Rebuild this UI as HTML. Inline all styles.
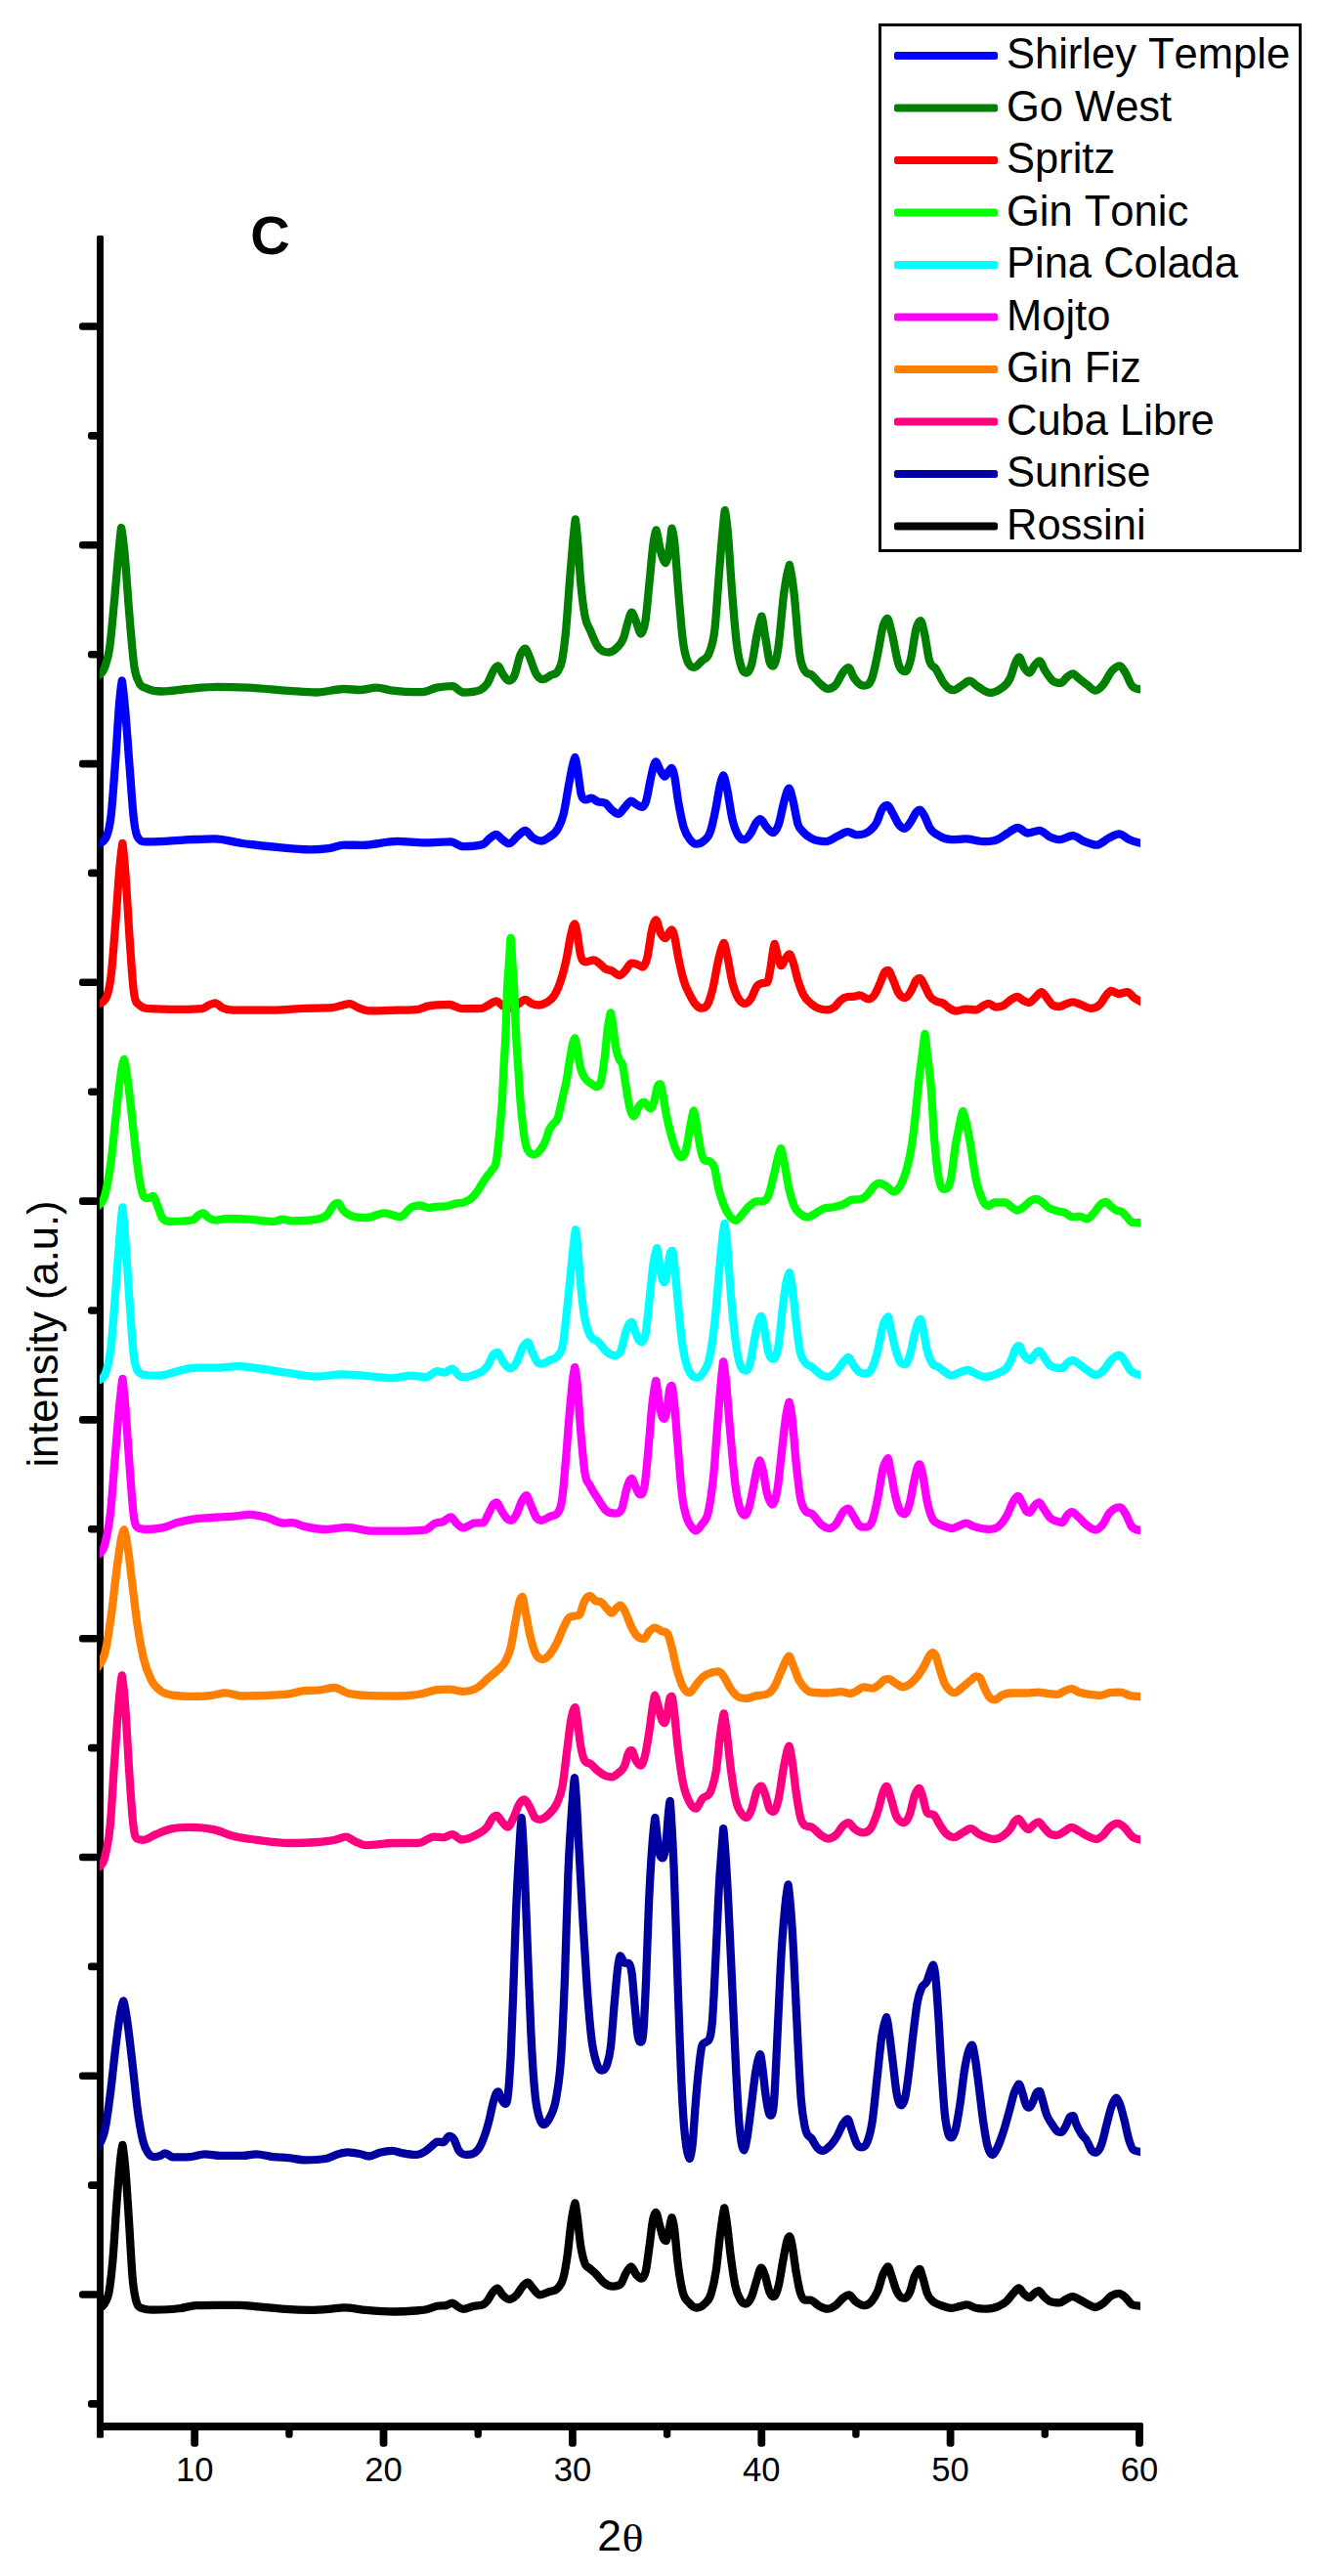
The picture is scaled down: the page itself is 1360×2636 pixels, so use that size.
<!DOCTYPE html>
<html lang="en"><head><meta charset="utf-8"><title>XRD patterns C</title>
<style>html,body{margin:0;padding:0;background:#fff}body{width:1360px;height:2636px;overflow:hidden}svg{display:block}text{font-family:"Liberation Sans",sans-serif;fill:#000;font-kerning:none}</style></head><body>
<svg width="1360" height="2636" viewBox="0 0 1360 2636">
<rect width="1360" height="2636" fill="#fff"/>
<g fill="#000">
<rect x="99" y="241" width="7" height="2253.8" rx="1.5"/>
<rect x="99" y="2479.1" width="1071" height="7.8" rx="2"/>
<rect x="81" y="330.2" width="20" height="7.6" rx="3"/>
<rect x="90" y="442.1" width="11" height="7.6" rx="3"/>
<rect x="81" y="554.0" width="20" height="7.6" rx="3"/>
<rect x="90" y="665.9" width="11" height="7.6" rx="3"/>
<rect x="81" y="777.8" width="20" height="7.6" rx="3"/>
<rect x="90" y="889.6" width="11" height="7.6" rx="3"/>
<rect x="81" y="1001.5" width="20" height="7.6" rx="3"/>
<rect x="90" y="1113.4" width="11" height="7.6" rx="3"/>
<rect x="81" y="1225.3" width="20" height="7.6" rx="3"/>
<rect x="90" y="1337.2" width="11" height="7.6" rx="3"/>
<rect x="81" y="1449.1" width="20" height="7.6" rx="3"/>
<rect x="90" y="1561.0" width="11" height="7.6" rx="3"/>
<rect x="81" y="1672.9" width="20" height="7.6" rx="3"/>
<rect x="90" y="1784.8" width="11" height="7.6" rx="3"/>
<rect x="81" y="1896.7" width="20" height="7.6" rx="3"/>
<rect x="90" y="2008.6" width="11" height="7.6" rx="3"/>
<rect x="81" y="2120.4" width="20" height="7.6" rx="3"/>
<rect x="90" y="2232.3" width="11" height="7.6" rx="3"/>
<rect x="81" y="2344.2" width="20" height="7.6" rx="3"/>
<rect x="90" y="2456.1" width="11" height="7.6" rx="3"/>
<rect x="195.3" y="2483" width="7.8" height="20.7" rx="3"/>
<rect x="292.2" y="2483" width="7.4" height="11.8" rx="3"/>
<rect x="388.6" y="2483" width="7.8" height="20.7" rx="3"/>
<rect x="485.5" y="2483" width="7.4" height="11.8" rx="3"/>
<rect x="582.0" y="2483" width="7.8" height="20.7" rx="3"/>
<rect x="678.9" y="2483" width="7.4" height="11.8" rx="3"/>
<rect x="775.4" y="2483" width="7.8" height="20.7" rx="3"/>
<rect x="872.2" y="2483" width="7.4" height="11.8" rx="3"/>
<rect x="968.7" y="2483" width="7.8" height="20.7" rx="3"/>
<rect x="1065.6" y="2483" width="7.4" height="11.8" rx="3"/>
<rect x="1162.1" y="2483" width="7.8" height="20.7" rx="3"/>
</g>
<clipPath id="cp"><rect x="102.0" y="0" width="1065.0" height="2636"/></clipPath>
<g fill="none" stroke-width="8.3" stroke-linejoin="round" stroke-linecap="butt" clip-path="url(#cp)">
<path stroke="#0000ff" d="M98.0 864.6C101.7 861.7 105.3 864.6 109.0 856.1C110.5 852.4 112.1 847.7 113.7 834.0C115.1 821.4 116.6 800.0 118.0 780.2C119.4 762.0 120.7 736.0 122.0 720.9C122.9 710.6 123.9 701.4 124.8 696.5C125.8 701.9 126.9 712.8 127.9 723.6C129.4 739.6 131.0 763.6 132.5 783.4C134.0 801.4 135.4 824.9 136.8 837.1C138.0 848.0 139.3 853.5 140.6 856.1C143.2 861.4 145.8 861.4 148.5 861.4C155.3 861.4 162.2 861.1 169.0 860.8C177.4 860.4 185.9 859.7 194.3 859.2C202.7 858.8 211.1 858.3 219.6 858.3C229.1 858.3 238.5 861.7 248.0 863.0C260.7 864.8 273.3 866.0 285.9 867.1C296.5 868.1 307.0 869.3 317.5 869.3C323.9 869.3 330.2 869.0 336.5 868.1C341.8 867.3 347.0 864.6 352.3 864.6C358.6 864.6 364.9 864.9 371.3 864.9C382.9 864.9 394.4 860.8 406.0 860.8C415.5 860.8 425.0 862.4 434.5 862.4C443.4 862.4 452.4 861.4 461.3 861.4C465.5 861.4 469.8 866.2 474.0 866.2C480.8 866.2 487.7 866.2 494.5 864.0C496.7 863.3 498.9 859.6 501.1 857.9C503.3 856.2 505.5 854.0 507.7 854.0C509.8 854.0 512.0 857.7 514.2 859.2C516.4 860.8 518.6 863.2 520.8 863.2C523.9 863.2 527.0 857.7 530.0 855.3C532.5 853.4 535.0 850.0 537.4 850.0C539.8 850.0 542.2 854.9 544.5 856.6C547.7 858.8 550.8 860.5 553.9 860.5C556.6 860.5 559.2 858.5 561.9 856.6C565.0 854.4 568.1 853.7 571.2 847.4C573.1 843.7 574.9 840.3 576.7 832.9C578.6 825.2 580.5 811.2 582.4 801.3C583.8 793.9 585.3 785.2 586.7 780.2C587.3 778.1 587.9 775.3 588.5 775.0C589.4 775.7 590.3 783.0 591.1 788.1C592.4 795.1 593.6 808.9 594.8 813.1C596.3 818.4 597.8 818.4 599.3 818.4C601.2 818.4 603.2 816.6 605.1 816.6C607.3 816.6 609.5 819.4 611.7 820.3C614.3 821.3 616.9 820.3 619.6 821.8C621.8 823.2 624.0 827.1 626.2 828.9C628.4 830.8 630.6 832.9 632.7 832.9C634.9 832.9 637.1 828.5 639.3 826.3C641.5 824.1 643.7 819.7 645.9 819.7C647.7 819.7 649.4 822.2 651.2 823.2C653.0 824.2 654.8 825.8 656.7 825.8C658.2 825.8 659.7 824.6 661.2 819.7C662.6 815.2 664.1 805.2 665.5 798.7C666.6 793.5 667.7 787.6 668.8 784.2C669.5 782.1 670.2 779.4 670.9 779.4C672.7 779.4 674.4 786.7 676.2 789.4C677.5 791.5 678.8 794.7 680.2 794.7C681.5 794.7 682.8 791.0 684.1 789.4C685.2 788.2 686.2 786.0 687.3 786.0C688.1 786.0 689.0 788.7 689.8 792.1C691.2 797.6 692.6 811.6 694.0 819.7C695.9 830.4 697.7 839.6 699.5 846.1C701.8 853.9 704.0 856.3 706.2 859.2C708.3 862.0 710.4 863.7 712.5 863.7C715.0 863.7 717.6 862.9 720.1 860.5C722.4 858.5 724.6 857.9 726.8 851.3C728.7 845.9 730.6 836.7 732.4 827.6C734.0 819.8 735.7 807.3 737.3 801.3C738.2 797.7 739.2 793.8 740.2 793.4C741.4 794.0 742.7 801.1 743.9 806.6C745.7 814.7 747.6 830.2 749.4 838.2C751.2 845.9 753.0 850.4 754.9 854.0C756.9 857.9 758.9 859.2 761.0 859.2C763.4 859.2 765.9 856.5 768.4 852.6C770.1 849.9 771.9 844.6 773.6 842.1C775.1 840.0 776.6 838.2 778.1 838.2C780.1 838.2 782.2 843.8 784.2 846.1C786.4 848.6 788.7 852.1 791.0 852.1C793.0 852.1 794.9 849.1 796.9 843.4C798.8 838.0 800.6 826.1 802.5 819.7C804.1 814.2 805.7 807.2 807.4 806.6C808.8 807.2 810.2 814.3 811.6 819.7C813.2 826.1 814.9 838.2 816.5 843.4C818.3 849.1 820.1 849.2 821.9 851.3C824.7 854.8 827.6 856.3 830.4 857.9C835.4 860.7 840.3 861.1 845.3 861.1C849.5 861.1 853.7 857.0 857.9 855.2C861.1 853.8 864.2 851.1 867.4 851.1C870.6 851.1 873.7 854.4 876.9 854.4C881.4 854.4 885.9 853.9 890.4 849.8C892.7 847.7 894.9 846.0 897.2 841.6C899.0 838.2 900.8 831.0 902.6 828.1C904.4 825.1 906.2 824.0 908.0 824.0C909.8 824.0 911.6 829.2 913.5 832.1C915.7 835.8 918.0 841.7 920.2 844.3C922.0 846.4 923.8 847.9 925.6 847.9C927.9 847.9 930.2 843.6 932.4 840.3C934.2 837.6 936.0 832.7 937.8 830.8C939.0 829.5 940.2 828.6 941.4 828.6C942.9 828.6 944.4 832.1 946.0 834.9C947.8 838.0 949.6 843.9 951.4 847.0C954.5 852.6 957.7 853.2 960.9 855.2C965.4 858.0 969.9 859.2 974.4 859.2C978.9 859.2 983.4 858.4 987.9 858.4C994.3 858.4 1000.6 861.1 1006.9 861.1C1011.4 861.1 1015.9 861.1 1020.5 859.2C1024.1 857.8 1027.7 854.5 1031.3 852.5C1034.7 850.5 1038.1 847.0 1041.6 847.0C1044.9 847.0 1048.3 852.5 1051.6 852.5C1055.7 852.5 1059.7 849.8 1063.8 849.8C1067.4 849.8 1071.0 854.9 1074.6 856.5C1077.8 857.9 1080.9 859.2 1084.1 859.2C1088.6 859.2 1093.1 855.2 1097.7 855.2C1101.7 855.2 1105.8 859.5 1109.8 861.1C1113.9 862.7 1118.0 864.7 1122.0 864.7C1126.1 864.7 1130.2 859.9 1134.2 857.9C1137.8 856.1 1141.4 853.3 1145.1 853.3C1148.7 853.3 1152.3 857.6 1155.9 859.2C1160.9 861.5 1166.0 862.3 1171.0 863.8"/>
<path stroke="#008000" d="M98.0 693.7C101.1 689.9 104.3 691.8 107.4 682.3C109.0 677.4 110.5 674.1 112.1 663.3C113.8 651.6 115.5 630.8 117.2 612.7C118.7 596.8 120.2 577.1 121.7 562.2C122.5 554.3 123.3 544.5 124.1 540.0C125.2 544.7 126.2 553.4 127.2 563.1C129.0 579.9 130.8 611.0 132.6 631.7C134.2 650.3 135.8 671.2 137.4 682.3C139.0 693.1 140.6 694.3 142.1 698.1C144.8 704.3 147.4 702.8 150.0 704.4C155.3 707.5 160.6 707.5 165.8 707.5C174.3 707.5 182.7 705.7 191.1 705.0C201.7 704.1 212.2 702.8 222.7 702.8C233.3 702.8 243.8 703.2 254.3 703.7C268.0 704.4 281.7 706.0 295.4 706.9C304.9 707.5 314.4 708.5 323.9 708.5C333.3 708.5 342.8 705.0 352.3 705.0C357.6 705.0 362.8 706.0 368.1 706.0C373.9 706.0 379.7 703.7 385.5 703.7C390.2 703.7 395.0 705.6 399.7 706.3C410.2 707.8 420.8 708.2 431.3 708.2C436.6 708.2 441.8 704.7 447.1 703.7C452.4 702.7 457.6 702.2 462.9 702.2C466.6 702.2 470.3 708.5 474.0 708.5C479.8 708.5 485.6 708.5 491.4 706.0C493.7 704.9 496.1 703.2 498.4 699.9C501.1 696.2 503.7 687.1 506.3 684.1C507.5 682.8 508.6 681.5 509.8 681.5C511.3 681.5 512.7 687.1 514.2 689.4C516.4 692.6 518.6 696.5 520.8 696.5C522.6 696.5 524.3 695.5 526.1 692.0C528.3 687.6 530.5 674.4 532.7 669.6C534.3 666.2 535.8 663.6 537.4 663.6C538.9 663.6 540.4 669.0 541.9 672.2C544.1 677.1 546.3 685.5 548.5 689.4C550.8 693.5 553.2 695.2 555.6 695.2C558.5 695.2 561.4 692.3 564.3 690.7C566.5 689.4 568.7 690.7 570.9 686.7C572.4 684.0 573.8 683.1 575.3 674.9C576.5 668.6 577.6 659.8 578.8 648.5C580.3 633.6 581.8 608.9 583.3 590.6C584.3 577.8 585.4 564.7 586.4 553.7C587.2 545.6 588.0 535.8 588.8 531.4C589.6 535.9 590.4 544.6 591.2 553.9C592.2 565.3 593.2 584.3 594.2 595.9C595.7 612.2 597.1 622.1 598.5 630.1C600.3 640.1 602.0 640.2 603.8 644.6C606.4 651.2 609.0 657.8 611.7 661.7C615.5 667.3 619.3 667.5 623.0 667.5C625.7 667.5 628.3 665.7 631.0 663.0C633.2 660.8 635.5 659.6 637.7 653.8C639.6 649.1 641.4 639.2 643.3 634.1C644.3 631.1 645.4 626.7 646.4 626.7C647.8 626.7 649.3 632.2 650.7 635.4C652.4 639.3 654.2 648.1 655.9 648.5C657.4 648.1 659.0 645.0 660.5 635.4C662.0 625.7 663.5 605.5 665.1 590.6C666.3 578.6 667.5 563.0 668.8 554.7C669.7 548.6 670.6 544.5 671.5 542.4C673.0 546.1 674.6 558.7 676.2 564.3C677.8 570.0 679.4 575.8 681.1 576.1C682.4 575.6 683.8 568.3 685.2 559.0C686.0 553.9 686.8 544.3 687.5 540.6C688.3 543.0 689.1 546.7 689.9 552.6C691.4 563.8 692.8 589.2 694.3 606.4C695.7 622.9 697.2 642.2 698.6 653.8C700.3 668.2 702.1 673.3 703.9 677.5C706.0 682.8 708.2 682.8 710.4 682.8C713.1 682.8 715.7 678.8 718.3 676.2C721.0 673.6 723.6 675.3 726.2 667.0C728.0 661.4 729.7 659.2 731.5 643.3C733.0 629.8 734.5 603.7 736.0 585.3C737.2 569.8 738.5 553.3 739.8 540.6C740.4 533.8 741.1 525.8 741.8 522.1C742.8 526.6 743.8 533.9 744.8 544.3C746.0 557.0 747.2 580.0 748.4 595.9C750.2 619.9 752.1 644.3 753.9 659.1C755.6 673.2 757.4 679.3 759.2 684.1C760.8 688.5 762.4 688.6 764.0 688.6C765.7 688.6 767.4 686.1 769.1 680.2C771.0 673.5 772.9 657.3 774.8 648.5C776.3 641.4 777.9 632.9 779.4 630.6C780.8 633.5 782.1 646.1 783.5 653.8C784.9 661.7 786.3 673.1 787.6 677.5C788.8 681.2 790.0 681.5 791.1 681.5C792.8 681.5 794.5 674.9 796.2 664.3C798.2 651.8 800.3 621.0 802.3 606.4C804.2 593.0 806.0 583.7 807.9 578.0C809.4 583.7 811.0 593.7 812.5 606.4C814.4 622.4 816.4 656.3 818.3 669.6C820.1 681.8 821.9 683.7 823.7 686.7C826.1 690.7 828.4 688.8 830.8 690.7C833.5 692.9 836.3 697.1 839.0 699.4C841.7 701.8 844.4 704.8 847.1 704.8C849.8 704.8 852.5 703.7 855.2 700.8C857.9 697.8 860.6 690.3 863.3 687.2C865.0 685.4 866.6 683.2 868.2 683.2C870.2 683.2 872.2 691.2 874.2 694.0C877.5 698.7 880.8 701.6 884.1 701.6C886.8 701.6 889.6 701.6 892.3 694.0C894.2 688.7 896.2 678.6 898.1 669.6C900.0 660.5 902.0 645.8 903.9 639.8C905.3 635.6 906.7 633.0 908.0 633.0C909.6 633.0 911.1 642.1 912.7 647.9C915.0 656.8 917.4 674.0 919.8 680.5C922.0 686.6 924.2 687.2 926.4 687.2C928.3 687.2 930.1 682.0 931.9 675.0C933.9 667.5 935.8 649.0 937.8 642.5C939.1 638.0 940.5 635.2 941.9 635.2C943.3 635.2 944.6 642.2 946.0 647.9C947.6 654.8 949.2 668.8 950.8 675.0C953.1 683.8 955.4 680.9 957.7 684.5C960.4 688.8 963.2 695.8 966.0 699.4C969.1 703.5 972.3 706.2 975.5 706.2C978.7 706.2 982.0 702.7 985.2 700.8C987.5 699.5 989.8 696.7 992.0 696.7C994.7 696.7 997.4 700.5 1000.1 702.1C1004.5 704.8 1008.9 708.9 1013.2 708.9C1016.8 708.9 1020.5 707.6 1024.1 704.8C1027.3 702.4 1030.5 701.2 1033.7 694.0C1035.6 689.8 1037.5 681.7 1039.4 677.7C1040.5 675.4 1041.6 672.3 1042.7 672.3C1044.5 672.3 1046.3 680.5 1048.1 683.2C1049.9 685.9 1051.7 688.6 1053.5 688.6C1055.3 688.6 1057.1 682.5 1058.9 680.5C1060.5 678.6 1062.2 676.4 1063.8 676.4C1065.6 676.4 1067.4 683.0 1069.2 685.9C1071.9 690.2 1074.6 694.5 1077.3 696.7C1080.0 698.9 1082.8 698.9 1085.5 698.9C1087.7 698.9 1090.0 694.3 1092.2 692.6C1094.0 691.3 1095.8 689.4 1097.7 689.4C1099.9 689.4 1102.2 692.8 1104.4 694.5C1107.1 696.6 1109.8 698.8 1112.6 700.8C1115.4 702.9 1118.3 706.7 1121.2 706.7C1123.7 706.7 1126.3 703.6 1128.8 700.8C1132.0 697.2 1135.1 689.1 1138.3 685.9C1140.8 683.3 1143.3 681.3 1145.9 681.3C1147.9 681.3 1149.8 685.4 1151.8 688.6C1154.1 692.2 1156.3 699.9 1158.6 702.1C1162.7 706.2 1166.9 704.8 1171.0 706.2"/>
<path stroke="#ff0000" d="M98.0 1028.6C101.7 1025.8 105.3 1028.6 109.0 1020.1C110.5 1016.5 112.1 1011.2 113.7 998.0C115.1 986.0 116.6 965.5 118.0 947.4C119.6 928.0 121.1 900.7 122.7 884.9C123.6 875.8 124.5 867.2 125.4 862.8C126.2 867.8 127.0 878.0 127.9 887.8C129.5 906.6 131.1 937.8 132.6 960.1C134.0 979.4 135.4 1002.9 136.8 1013.8C138.6 1028.0 140.4 1026.0 142.1 1028.0C145.8 1032.1 149.5 1031.9 153.2 1032.1C163.7 1032.8 174.3 1032.8 184.8 1032.8C192.2 1032.8 199.6 1032.8 206.9 1032.1C209.6 1031.9 212.2 1029.1 214.8 1028.0C216.6 1027.3 218.4 1026.5 220.2 1026.5C222.6 1026.5 225.0 1030.0 227.5 1031.2C231.2 1033.0 234.8 1033.7 238.5 1033.7C252.2 1033.7 265.9 1033.7 279.6 1033.7C290.2 1033.7 300.7 1032.3 311.2 1031.8C320.7 1031.4 330.2 1031.8 339.7 1031.2C342.8 1031.0 346.0 1029.7 349.1 1029.0C352.1 1028.3 355.0 1027.1 358.0 1027.1C360.8 1027.1 363.7 1030.1 366.5 1031.2C370.2 1032.7 373.9 1034.4 377.6 1034.4C387.1 1034.4 396.5 1034.0 406.0 1033.7C413.4 1033.5 420.8 1033.7 428.1 1032.8C431.3 1032.4 434.5 1030.3 437.6 1029.6C445.0 1028.0 452.4 1028.0 459.8 1028.0C464.0 1028.0 468.2 1032.1 472.4 1032.1C479.2 1032.1 486.1 1032.1 492.9 1031.8C495.6 1031.7 498.4 1029.1 501.1 1027.7C503.3 1026.6 505.5 1024.3 507.7 1024.3C509.8 1024.3 512.0 1027.8 514.2 1029.0C516.9 1030.5 519.5 1031.7 522.1 1031.7C524.8 1031.7 527.4 1029.2 530.0 1027.7C532.5 1026.3 535.0 1023.0 537.4 1023.0C539.8 1023.0 542.2 1026.3 544.5 1027.2C546.8 1028.1 549.1 1028.5 551.3 1028.5C554.0 1028.5 556.6 1027.5 559.3 1025.9C561.9 1024.2 564.6 1023.0 567.3 1018.5C569.6 1014.7 571.8 1009.8 574.1 1002.7C575.9 996.9 577.8 990.5 579.6 981.6C581.1 974.8 582.5 964.3 583.9 957.9C584.9 953.8 585.8 949.6 586.7 947.4C587.1 946.4 587.6 945.3 588.0 945.3C588.8 945.3 589.5 949.2 590.3 952.7C591.5 958.1 592.7 971.0 593.9 976.4C595.7 984.3 597.5 984.3 599.3 984.3C602.1 984.3 604.9 982.4 607.7 982.4C609.5 982.4 611.2 984.3 613.0 985.6C615.2 987.2 617.4 990.1 619.6 991.4C621.8 992.7 624.0 992.5 626.2 993.5C628.8 994.7 631.4 998.2 634.1 998.2C636.3 998.2 638.5 994.6 640.6 992.2C642.4 990.2 644.2 985.6 645.9 985.6C647.7 985.6 649.4 985.9 651.2 986.4C653.4 987.0 655.5 989.5 657.7 989.5C659.3 989.5 661.0 985.9 662.6 979.0C664.0 972.9 665.5 959.0 666.9 952.7C667.8 948.6 668.7 945.4 669.7 943.5C670.2 942.4 670.7 941.3 671.2 941.3C672.9 941.3 674.5 952.2 676.2 955.3C677.7 958.1 679.2 960.0 680.7 960.0C682.1 960.0 683.5 955.6 684.9 954.0C685.8 953.0 686.6 951.4 687.5 951.4C688.3 951.4 689.1 954.0 689.8 956.6C691.2 961.3 692.6 972.2 694.0 979.0C695.8 988.0 697.6 996.4 699.5 1002.7C701.7 1010.4 703.9 1014.1 706.2 1018.5C708.4 1022.9 710.6 1026.9 712.9 1029.0C714.8 1030.9 716.7 1031.7 718.6 1031.7C720.5 1031.7 722.3 1031.2 724.1 1027.7C726.0 1024.2 727.8 1018.1 729.6 1010.6C731.5 1002.9 733.4 989.5 735.3 981.6C736.7 975.9 738.1 970.1 739.5 967.2C739.9 966.3 740.3 965.0 740.7 965.0C741.8 965.0 742.8 972.0 743.9 976.4C745.7 984.1 747.6 997.9 749.4 1005.3C751.6 1014.4 753.9 1018.9 756.1 1022.5C758.3 1025.9 760.4 1026.9 762.5 1026.9C764.7 1026.9 766.8 1024.6 769.0 1021.1C770.8 1018.3 772.6 1011.8 774.4 1009.3C776.2 1006.9 778.0 1006.8 779.7 1006.1C781.5 1005.5 783.3 1006.1 785.0 1005.3C786.2 1004.8 787.5 996.4 788.7 989.5C789.6 984.0 790.6 974.6 791.6 970.0C791.9 968.4 792.3 966.3 792.6 965.8C793.7 967.5 794.9 975.3 796.0 979.0C797.2 982.7 798.3 988.2 799.5 988.2C800.8 988.2 802.1 983.5 803.4 981.6C804.9 979.5 806.4 976.4 807.9 976.4C809.1 976.4 810.3 980.8 811.5 984.3C813.2 988.9 814.8 997.4 816.4 1002.7C818.2 1008.5 820.0 1013.4 821.8 1017.2C824.7 1023.2 827.5 1024.8 830.4 1027.3C833.1 1029.7 835.8 1031.2 838.6 1032.2C841.3 1033.2 844.0 1033.3 846.7 1033.3C849.1 1033.3 851.5 1032.3 853.9 1030.6C856.1 1028.9 858.4 1025.0 860.6 1023.3C862.9 1021.5 865.1 1020.3 867.4 1020.0C869.7 1019.7 871.9 1020.0 874.2 1019.7C876.0 1019.5 877.8 1018.4 879.6 1018.4C882.8 1018.4 885.9 1022.4 889.1 1022.4C891.3 1022.4 893.6 1020.2 895.8 1016.5C897.7 1013.5 899.5 1008.4 901.3 1004.3C902.6 1001.2 904.0 996.7 905.3 994.8C906.5 993.2 907.7 992.9 908.8 992.9C910.4 992.9 911.9 998.3 913.5 1001.6C915.3 1005.5 917.1 1011.9 918.9 1015.1C921.3 1019.5 923.7 1021.1 926.2 1021.1C928.3 1021.1 930.3 1017.1 932.4 1013.8C934.2 1010.9 936.0 1004.9 937.8 1002.9C939.0 1001.6 940.2 1001.0 941.4 1001.0C942.9 1001.0 944.4 1005.6 946.0 1008.4C947.8 1011.6 949.6 1016.5 951.4 1019.2C953.6 1022.5 955.9 1023.4 958.1 1024.6C960.4 1025.8 962.7 1025.3 964.9 1026.5C967.2 1027.7 969.4 1030.6 971.7 1031.9C974.0 1033.3 976.2 1034.6 978.5 1034.6C981.6 1034.6 984.8 1032.7 987.9 1032.7C991.6 1032.7 995.2 1033.3 998.8 1033.3C1001.5 1033.3 1004.2 1029.9 1006.9 1028.7C1008.4 1028.0 1010.0 1026.8 1011.5 1026.8C1014.0 1026.8 1016.6 1030.6 1019.1 1030.6C1021.8 1030.6 1024.5 1030.0 1027.2 1028.7C1029.9 1027.3 1032.6 1024.0 1035.3 1022.4C1037.2 1021.4 1039.0 1020.0 1040.8 1020.0C1043.0 1020.0 1045.3 1023.0 1047.5 1024.1C1049.3 1024.9 1051.2 1026.0 1053.0 1026.0C1055.2 1026.0 1057.5 1022.5 1059.7 1020.5C1061.7 1018.8 1063.7 1015.1 1065.7 1015.1C1067.8 1015.1 1069.8 1019.5 1071.9 1021.9C1073.7 1024.0 1075.5 1027.6 1077.3 1028.7C1079.6 1030.0 1081.9 1030.0 1084.1 1030.0C1086.4 1030.0 1088.6 1028.1 1090.9 1027.3C1093.1 1026.5 1095.4 1025.4 1097.7 1025.4C1100.4 1025.4 1103.1 1027.0 1105.8 1027.9C1109.4 1029.1 1113.0 1031.9 1116.6 1031.9C1119.8 1031.9 1122.9 1030.9 1126.1 1027.3C1127.9 1025.3 1129.7 1021.4 1131.5 1019.2C1133.3 1016.9 1135.1 1013.8 1136.9 1013.8C1139.6 1013.8 1142.3 1017.0 1145.1 1017.0C1147.9 1017.0 1150.8 1015.1 1153.7 1015.1C1155.8 1015.1 1157.9 1019.0 1160.0 1020.5C1163.6 1023.3 1167.3 1024.7 1171.0 1026.8"/>
<path stroke="#00ff00" d="M98.0 1236.7C101.4 1230.9 104.9 1234.5 108.3 1219.2C110.1 1211.3 111.9 1201.0 113.7 1187.6C115.7 1172.4 117.8 1148.2 119.8 1130.7C121.4 1117.5 122.9 1101.9 124.5 1093.7C125.3 1089.2 126.1 1085.2 127.0 1084.0C128.1 1086.3 129.2 1095.2 130.3 1102.7C132.4 1116.4 134.5 1138.5 136.5 1156.0C138.4 1172.0 140.3 1191.8 142.1 1203.4C143.7 1213.2 145.3 1221.8 146.9 1224.0C148.5 1226.2 150.0 1226.2 151.6 1226.2C153.2 1226.2 154.8 1224.0 156.4 1224.0C157.9 1224.0 159.5 1229.8 161.1 1233.5C162.7 1237.1 164.3 1243.8 165.8 1246.1C168.5 1249.9 171.1 1249.9 173.7 1249.9C181.6 1249.9 189.5 1249.9 197.4 1248.3C199.6 1247.9 201.7 1244.1 203.8 1242.9C205.1 1242.2 206.5 1241.4 207.9 1241.4C209.7 1241.4 211.5 1244.9 213.3 1246.1C215.9 1247.8 218.5 1248.6 221.2 1248.6C224.8 1248.6 228.5 1247.0 232.2 1247.0C239.6 1247.0 247.0 1247.3 254.3 1247.7C262.8 1248.1 271.2 1249.9 279.6 1249.9C282.8 1249.9 285.9 1247.7 289.1 1247.7C292.3 1247.7 295.4 1249.3 298.6 1249.3C307.0 1249.3 315.4 1249.3 323.9 1247.7C327.5 1247.0 331.2 1247.0 334.9 1242.9C337.0 1240.6 339.1 1235.5 341.2 1233.5C342.8 1232.0 344.4 1230.9 346.0 1230.9C347.6 1230.9 349.1 1236.3 350.7 1238.2C353.4 1241.4 356.0 1242.8 358.6 1243.9C363.9 1246.1 369.2 1246.1 374.4 1246.1C380.7 1246.1 387.1 1241.4 393.4 1241.4C398.7 1241.4 403.9 1245.1 409.2 1245.1C413.4 1245.1 417.6 1236.8 421.8 1235.0C424.5 1233.9 427.1 1233.5 429.7 1233.5C432.9 1233.5 436.0 1236.0 439.2 1236.0C441.2 1236.0 443.3 1235.0 445.3 1234.8C448.8 1234.4 452.3 1234.8 455.8 1234.4C459.3 1234.0 462.8 1232.3 466.3 1231.6C469.1 1231.0 472.0 1231.3 474.8 1230.3C477.2 1229.4 479.7 1228.5 482.1 1226.4C483.9 1224.9 485.6 1223.0 487.4 1220.6C489.2 1218.2 490.9 1214.9 492.7 1212.2C494.4 1209.5 496.2 1206.7 497.9 1204.3C499.7 1201.8 501.4 1200.7 503.2 1197.4C505.0 1194.1 506.7 1197.4 508.5 1184.3C508.9 1181.3 509.3 1177.4 509.7 1173.7C510.1 1170.3 510.4 1166.9 510.8 1163.2C511.4 1156.8 512.1 1150.2 512.7 1142.1C513.2 1135.7 513.7 1131.1 514.2 1121.1C514.5 1115.1 514.8 1106.7 515.1 1100.0C516.0 1079.9 516.9 1074.6 517.8 1048.7C518.1 1040.1 518.4 1028.1 518.7 1019.9C519.4 999.9 520.2 996.2 520.9 985.0C521.5 976.3 522.0 964.8 522.6 959.8C523.2 964.8 523.8 975.9 524.4 985.0C525.1 995.6 525.8 1003.9 526.5 1019.9C526.9 1028.3 527.2 1040.1 527.6 1048.7C528.7 1073.9 529.7 1082.7 530.8 1100.0C531.2 1107.0 531.7 1115.0 532.1 1121.1C532.7 1130.0 533.4 1135.8 534.0 1142.1C534.8 1150.4 535.7 1157.8 536.5 1163.2C537.2 1168.0 538.0 1171.0 538.7 1173.7C540.0 1178.3 541.2 1178.8 542.5 1180.0C544.0 1181.4 545.6 1181.4 547.1 1181.4C549.1 1181.4 551.0 1179.1 553.0 1176.5C554.3 1174.8 555.7 1172.8 557.0 1170.0C557.9 1168.2 558.7 1166.2 559.6 1163.7C560.2 1161.9 560.9 1159.2 561.5 1157.5C562.8 1154.0 564.0 1152.9 565.3 1150.9C567.3 1147.8 569.2 1149.4 571.2 1142.7C572.0 1139.9 572.9 1135.7 573.7 1132.1C574.5 1128.7 575.3 1125.0 576.1 1121.6C576.9 1118.0 577.8 1115.1 578.6 1111.1C579.3 1107.9 579.9 1104.7 580.6 1100.5C581.1 1097.4 581.6 1093.2 582.1 1090.0C582.7 1086.3 583.2 1083.2 583.8 1080.0C584.4 1076.6 585.0 1072.7 585.6 1070.0C586.5 1066.0 587.4 1062.7 588.3 1062.3C589.0 1062.8 589.6 1067.9 590.3 1071.2C591.5 1077.1 592.7 1087.0 593.9 1092.2C595.7 1100.1 597.5 1101.3 599.3 1104.1C601.5 1107.6 603.7 1107.9 605.9 1109.4C607.5 1110.4 609.2 1112.0 610.8 1112.0C612.3 1112.0 613.8 1112.0 615.3 1105.4C616.5 1099.9 617.8 1089.6 619.1 1079.1C620.1 1070.7 621.1 1057.8 622.1 1050.6C622.8 1045.4 623.6 1041.7 624.3 1038.5C624.5 1037.8 624.7 1036.7 624.8 1036.4C625.4 1037.6 626.1 1041.6 626.7 1045.1C627.8 1051.7 628.9 1064.7 630.1 1071.2C631.2 1078.0 632.4 1081.3 633.6 1084.3C634.8 1087.4 635.9 1085.1 637.1 1089.6C638.2 1094.0 639.3 1104.0 640.4 1110.7C641.8 1119.0 643.2 1129.1 644.6 1134.4C645.9 1139.4 647.2 1142.3 648.5 1142.3C650.3 1142.3 652.1 1134.2 653.8 1131.8C655.6 1129.3 657.3 1127.8 659.1 1127.8C661.3 1127.8 663.5 1134.4 665.7 1134.4C667.0 1134.4 668.3 1131.0 669.6 1126.5C670.7 1122.9 671.7 1114.8 672.8 1112.0C673.7 1109.4 674.7 1109.4 675.7 1109.4C676.5 1109.4 677.2 1115.0 678.0 1118.6C679.4 1124.9 680.8 1135.5 682.2 1142.3C683.5 1149.0 684.9 1154.3 686.3 1159.4C688.1 1166.2 689.9 1172.3 691.7 1176.5C693.5 1180.6 695.2 1184.4 697.0 1184.4C698.7 1184.4 700.4 1182.8 702.1 1176.5C703.5 1171.2 704.9 1160.2 706.3 1152.8C707.3 1147.8 708.3 1141.5 709.3 1138.3C709.5 1137.6 709.7 1136.6 709.9 1136.5C710.7 1137.2 711.5 1143.4 712.3 1147.6C713.7 1154.9 715.1 1167.3 716.5 1173.9C717.8 1180.3 719.2 1185.9 720.5 1187.1C722.7 1188.9 724.9 1187.1 727.1 1188.9C728.5 1190.0 729.8 1190.6 731.1 1195.0C732.5 1199.5 733.9 1210.2 735.3 1216.0C737.1 1223.7 738.9 1228.6 740.7 1233.1C742.9 1238.8 745.1 1242.3 747.3 1245.0C749.2 1247.3 751.1 1248.9 752.9 1248.9C755.2 1248.9 757.4 1244.8 759.6 1242.4C761.8 1239.9 764.1 1236.6 766.3 1234.5C768.5 1232.4 770.7 1230.2 773.0 1229.7C775.6 1229.2 778.2 1229.7 780.9 1229.2C782.7 1228.8 784.4 1228.1 786.2 1223.9C788.1 1219.6 789.9 1210.3 791.8 1202.9C793.5 1196.2 795.1 1187.2 796.8 1181.8C797.6 1179.2 798.4 1175.5 799.2 1175.2C800.1 1175.7 800.9 1181.8 801.8 1185.7C803.7 1194.0 805.5 1207.9 807.3 1216.0C809.2 1224.0 811.0 1230.1 812.8 1234.5C815.0 1239.8 817.2 1240.5 819.4 1242.4C821.8 1244.3 824.1 1245.4 826.5 1245.4C829.3 1245.4 832.1 1242.8 834.9 1241.3C837.6 1239.9 840.3 1237.7 843.0 1236.7C846.2 1235.5 849.3 1236.0 852.5 1235.3C856.1 1234.6 859.7 1234.0 863.3 1232.4C866.0 1231.2 868.8 1228.5 871.5 1227.8C874.6 1227.0 877.8 1227.8 880.9 1227.0C883.2 1226.4 885.5 1224.6 887.7 1222.3C890.0 1220.1 892.2 1215.7 894.5 1213.7C896.3 1212.1 898.1 1210.7 899.9 1210.7C902.2 1210.7 904.4 1212.4 906.7 1213.7C909.4 1215.2 912.1 1219.6 914.8 1219.6C917.2 1219.6 919.5 1216.6 921.9 1212.2C923.1 1209.8 924.4 1207.0 925.7 1203.2C926.6 1200.6 927.5 1197.7 928.4 1194.2C929.7 1189.2 931.0 1183.8 932.3 1176.0C933.2 1170.8 934.0 1165.1 934.9 1158.1C935.8 1151.1 936.6 1142.3 937.5 1134.0C938.5 1124.1 939.6 1112.2 940.6 1103.2C941.6 1094.7 942.5 1088.4 943.5 1081.0C944.5 1073.3 945.5 1062.6 946.5 1058.0C947.4 1062.6 948.3 1073.5 949.2 1081.0C950.1 1088.5 951.0 1093.3 951.9 1103.2C952.5 1109.5 953.0 1116.3 953.6 1125.0C953.9 1129.6 954.2 1134.8 954.5 1140.0C954.8 1145.8 955.2 1152.9 955.5 1158.1C956.0 1166.3 956.6 1170.4 957.1 1176.1C957.7 1182.5 958.3 1189.2 958.9 1194.2C959.6 1200.3 960.4 1204.2 961.1 1207.7C962.9 1216.3 964.6 1216.8 966.4 1216.8C968.5 1216.8 970.6 1216.8 972.7 1207.7C973.4 1204.5 974.2 1199.3 974.9 1194.2C975.7 1188.8 976.4 1181.4 977.2 1176.1C978.3 1168.5 979.4 1163.6 980.5 1158.1C982.1 1150.1 983.7 1139.7 985.3 1137.0C987.1 1139.7 988.9 1149.1 990.7 1158.1C991.8 1163.4 992.8 1169.5 993.9 1176.1C994.8 1181.7 995.7 1188.7 996.6 1194.2C997.7 1201.0 998.8 1207.6 1000.0 1212.2C1000.9 1216.3 1001.9 1218.6 1002.9 1221.3C1004.1 1224.6 1005.3 1227.9 1006.5 1230.0C1008.2 1232.9 1009.8 1234.0 1011.5 1234.0C1013.6 1234.0 1015.7 1230.5 1017.7 1230.5C1021.4 1230.5 1025.0 1230.5 1028.6 1230.5C1030.8 1230.5 1033.1 1233.9 1035.3 1235.3C1037.2 1236.5 1039.0 1238.6 1040.8 1238.6C1043.0 1238.6 1045.3 1236.7 1047.5 1235.1C1049.8 1233.5 1052.1 1230.5 1054.3 1229.1C1056.1 1228.0 1057.9 1227.0 1059.7 1227.0C1061.5 1227.0 1063.3 1228.1 1065.1 1229.1C1067.9 1230.7 1070.6 1234.2 1073.3 1235.9C1076.0 1237.6 1078.7 1238.3 1081.4 1239.1C1084.1 1240.0 1086.8 1239.7 1089.5 1240.8C1092.2 1241.8 1094.9 1245.4 1097.7 1245.4C1099.9 1245.4 1102.2 1244.6 1104.4 1244.6C1107.1 1244.6 1109.8 1247.3 1112.6 1247.3C1114.8 1247.3 1117.1 1243.7 1119.3 1241.3C1121.6 1238.9 1123.8 1234.6 1126.1 1232.6C1127.9 1231.1 1129.7 1229.9 1131.5 1229.9C1133.3 1229.9 1135.1 1233.1 1136.9 1234.5C1138.7 1236.0 1140.5 1237.7 1142.3 1238.6C1144.2 1239.5 1146.0 1238.8 1147.8 1240.0C1149.6 1241.1 1151.4 1243.6 1153.2 1245.4C1155.0 1247.2 1156.8 1250.6 1158.6 1250.8C1162.7 1251.3 1166.9 1251.2 1171.0 1251.3"/>
<path stroke="#00ffff" d="M98.0 1414.2C101.7 1410.2 105.3 1414.2 109.0 1402.3C110.5 1397.1 112.1 1390.9 113.7 1377.0C115.1 1364.5 116.5 1344.3 117.9 1326.4C119.5 1306.6 121.1 1280.8 122.6 1263.2C123.5 1252.7 124.5 1241.0 125.4 1235.4C126.2 1241.0 127.1 1252.9 127.9 1263.2C129.5 1282.7 131.1 1311.0 132.6 1332.7C134.0 1351.7 135.4 1374.9 136.8 1386.5C138.0 1397.1 139.3 1400.0 140.6 1402.3C143.2 1407.0 145.8 1406.6 148.5 1407.0C153.2 1407.6 157.9 1407.6 162.7 1407.6C170.1 1407.6 177.4 1403.7 184.8 1402.3C190.1 1401.2 195.3 1399.7 200.6 1399.7C208.0 1399.7 215.4 1399.7 222.7 1399.7C229.6 1399.7 236.4 1398.1 243.3 1398.1C251.2 1398.1 259.1 1399.7 267.0 1400.7C275.4 1401.8 283.8 1403.3 292.3 1404.5C302.8 1406.0 313.3 1408.6 323.9 1408.6C332.3 1408.6 340.7 1406.4 349.1 1406.4C357.6 1406.4 366.0 1407.3 374.4 1407.9C383.4 1408.6 392.3 1410.2 401.3 1410.2C407.6 1410.2 413.9 1407.6 420.2 1407.6C425.5 1407.6 430.8 1409.2 436.0 1409.2C439.7 1409.2 443.4 1403.2 447.1 1403.2C449.7 1403.2 452.4 1404.5 455.0 1404.5C457.4 1404.5 459.9 1400.7 462.3 1400.7C465.7 1400.7 469.0 1409.2 472.4 1409.2C476.6 1409.2 480.8 1408.8 485.0 1407.0C489.9 1404.9 494.8 1404.6 499.8 1396.4C501.5 1393.5 503.3 1388.0 505.0 1385.9C506.3 1384.4 507.7 1383.8 509.0 1383.8C510.7 1383.8 512.5 1390.1 514.2 1392.5C516.9 1396.2 519.5 1400.4 522.1 1400.4C524.3 1400.4 526.5 1397.5 528.7 1393.8C530.9 1390.1 533.1 1381.5 535.3 1378.0C536.9 1375.5 538.5 1373.3 540.0 1373.3C541.5 1373.3 543.0 1380.1 544.5 1383.3C546.3 1387.0 548.0 1391.8 549.8 1393.8C551.1 1395.3 552.4 1395.7 553.7 1395.7C556.8 1395.7 559.9 1393.3 563.0 1391.7C565.6 1390.4 568.2 1391.4 570.9 1387.2C572.6 1384.5 574.4 1385.6 576.1 1375.4C577.5 1367.2 578.9 1351.5 580.4 1338.5C581.9 1324.4 583.4 1308.4 584.9 1293.7C585.9 1284.0 587.0 1272.3 588.0 1265.0C588.3 1262.5 588.7 1259.6 589.0 1258.2C589.6 1260.6 590.1 1265.6 590.6 1270.4C591.8 1281.4 593.0 1302.4 594.2 1314.8C595.6 1329.6 597.0 1340.7 598.4 1349.0C600.2 1359.6 602.0 1362.2 603.8 1366.2C606.4 1372.1 609.0 1370.2 611.7 1372.7C614.8 1375.7 617.8 1380.8 620.9 1383.3C623.5 1385.4 626.2 1387.2 628.8 1387.2C631.0 1387.2 633.2 1387.2 635.4 1382.0C637.1 1377.8 638.9 1367.3 640.6 1362.2C641.8 1358.9 642.9 1355.8 644.1 1354.3C644.9 1353.3 645.7 1353.0 646.4 1353.0C647.6 1353.0 648.7 1359.3 649.9 1362.2C651.2 1365.5 652.5 1369.6 653.8 1371.4C654.9 1372.9 656.0 1373.3 657.0 1373.3C658.2 1373.3 659.4 1371.0 660.6 1364.8C662.1 1357.0 663.6 1338.8 665.1 1325.3C666.3 1314.5 667.5 1300.0 668.7 1292.1C669.6 1286.3 670.5 1282.8 671.4 1279.7C671.7 1278.8 672.0 1277.3 672.2 1277.1C673.0 1278.1 673.8 1286.3 674.6 1291.1C675.6 1296.7 676.5 1304.7 677.4 1308.2C678.3 1311.6 679.2 1312.2 680.1 1312.2C681.2 1312.2 682.2 1304.8 683.3 1299.0C684.2 1294.3 685.1 1284.5 685.9 1281.9C686.6 1279.8 687.3 1279.8 688.1 1279.8C688.7 1279.8 689.3 1286.9 689.9 1291.6C691.3 1302.9 692.8 1324.0 694.3 1338.5C695.7 1352.8 697.1 1368.0 698.6 1378.0C700.3 1390.3 702.1 1395.4 703.9 1400.4C705.6 1405.4 707.4 1406.8 709.1 1408.3C710.4 1409.4 711.8 1409.6 713.1 1409.6C715.3 1409.6 717.5 1407.9 719.7 1404.3C721.8 1400.8 724.0 1399.4 726.2 1388.5C728.0 1379.8 729.8 1367.9 731.5 1351.7C733.1 1337.2 734.6 1315.4 736.2 1299.0C737.4 1286.1 738.6 1271.5 739.9 1262.4C740.4 1258.4 741.0 1254.2 741.5 1252.1C742.3 1255.9 743.1 1263.0 743.9 1270.9C745.4 1285.4 746.9 1313.5 748.4 1330.6C750.2 1351.4 752.1 1369.0 753.9 1380.6C755.6 1391.9 757.4 1398.0 759.2 1400.4C760.7 1402.5 762.2 1402.5 763.7 1402.5C765.1 1402.5 766.4 1399.0 767.8 1393.8C769.2 1388.4 770.7 1377.2 772.1 1370.1C773.5 1363.2 774.9 1355.6 776.3 1351.7C777.2 1349.2 778.0 1346.9 778.9 1346.9C780.0 1346.9 781.0 1354.6 782.1 1359.6C783.5 1366.1 784.8 1378.1 786.2 1383.3C787.8 1389.2 789.4 1390.7 790.9 1390.7C792.7 1390.7 794.6 1388.6 796.4 1378.0C797.9 1369.2 799.4 1350.1 800.9 1338.5C802.3 1327.3 803.8 1315.7 805.2 1309.5C806.1 1305.8 807.0 1302.5 807.9 1302.2C808.8 1302.9 809.6 1309.6 810.5 1315.4C811.9 1324.3 813.2 1340.4 814.5 1351.7C815.8 1362.0 817.0 1373.7 818.2 1380.6C820.0 1390.8 821.8 1390.8 823.6 1393.8C826.0 1397.9 828.4 1397.0 830.8 1398.8C834.0 1401.2 837.1 1405.3 840.3 1406.9C842.6 1408.1 844.8 1408.8 847.1 1408.8C849.8 1408.8 852.5 1406.8 855.2 1404.2C857.9 1401.6 860.6 1396.3 863.3 1393.4C865.0 1391.6 866.6 1388.8 868.2 1388.8C869.8 1388.8 871.3 1393.9 872.8 1396.1C875.1 1399.3 877.3 1402.7 879.6 1404.2C881.6 1405.6 883.6 1405.6 885.6 1405.6C887.9 1405.6 890.2 1404.8 892.4 1400.1C894.3 1396.2 896.2 1389.9 898.1 1382.5C900.0 1375.0 902.0 1361.1 903.9 1355.4C905.1 1351.9 906.3 1350.2 907.5 1348.7C908.0 1348.1 908.4 1347.3 908.8 1347.3C909.7 1347.3 910.5 1354.6 911.3 1358.1C913.2 1366.4 915.1 1376.3 916.9 1382.5C918.6 1388.1 920.3 1393.2 921.9 1394.7C923.4 1396.1 925.0 1396.1 926.5 1396.1C928.1 1396.1 929.8 1390.7 931.4 1385.2C933.1 1379.8 934.7 1369.6 936.3 1363.6C937.6 1359.1 938.8 1354.4 940.0 1352.2C940.6 1351.1 941.3 1350.0 941.9 1350.0C942.7 1350.0 943.5 1354.9 944.3 1358.1C945.8 1364.3 947.4 1376.5 948.9 1382.5C950.4 1388.8 952.0 1391.9 953.6 1394.7C955.9 1398.7 958.1 1397.2 960.4 1398.8C962.7 1400.4 964.9 1402.7 967.2 1404.2C969.5 1405.7 971.8 1407.7 974.0 1407.7C976.9 1407.7 979.7 1405.2 982.5 1404.2C985.1 1403.3 987.6 1402.0 990.1 1402.0C992.6 1402.0 995.0 1404.0 997.4 1405.0C1000.6 1406.3 1003.7 1408.8 1006.9 1408.8C1009.6 1408.8 1012.3 1408.5 1015.0 1407.7C1017.7 1407.0 1020.5 1405.6 1023.2 1404.2C1025.4 1403.0 1027.7 1402.9 1029.9 1400.1C1031.7 1397.9 1033.5 1394.8 1035.3 1390.7C1036.7 1387.6 1038.1 1382.1 1039.4 1379.8C1040.5 1378.0 1041.6 1377.1 1042.7 1377.1C1044.1 1377.1 1045.6 1383.0 1047.0 1385.2C1048.5 1387.6 1050.1 1389.5 1051.6 1390.7C1052.5 1391.3 1053.4 1392.0 1054.3 1392.0C1055.7 1392.0 1057.0 1388.1 1058.4 1386.6C1060.0 1384.8 1061.6 1382.5 1063.3 1382.5C1064.8 1382.5 1066.3 1386.0 1067.9 1387.9C1070.1 1390.8 1072.4 1395.5 1074.6 1397.4C1076.9 1399.4 1079.1 1399.1 1081.4 1399.6C1083.2 1400.0 1085.0 1400.1 1086.8 1400.1C1088.6 1400.1 1090.4 1396.1 1092.2 1394.7C1094.0 1393.4 1095.8 1392.0 1097.7 1392.0C1099.9 1392.0 1102.2 1394.6 1104.4 1396.1C1107.1 1397.9 1109.8 1400.3 1112.6 1402.0C1115.4 1403.9 1118.3 1406.9 1121.2 1406.9C1123.7 1406.9 1126.3 1405.2 1128.8 1402.8C1131.5 1400.4 1134.2 1394.8 1136.9 1392.0C1138.7 1390.1 1140.5 1388.3 1142.3 1387.4C1143.4 1386.9 1144.5 1386.6 1145.6 1386.6C1147.2 1386.6 1148.8 1389.9 1150.5 1392.0C1152.7 1395.0 1155.0 1400.4 1157.2 1402.8C1161.8 1407.7 1166.4 1406.1 1171.0 1407.7"/>
<path stroke="#ff00ff" d="M98.0 1593.5C101.4 1587.7 104.9 1592.1 108.3 1576.1C109.9 1568.7 111.5 1561.9 113.1 1547.6C114.6 1533.4 116.2 1509.3 117.8 1490.7C119.4 1471.4 121.0 1449.6 122.7 1433.9C123.6 1425.2 124.5 1415.4 125.4 1410.8C126.2 1415.5 127.0 1425.1 127.9 1434.2C129.4 1451.5 131.0 1479.9 132.6 1500.2C134.0 1518.4 135.4 1540.2 136.8 1550.8C138.2 1561.9 139.7 1562.6 141.2 1563.4C144.1 1565.0 147.1 1565.0 150.0 1565.0C155.3 1565.0 160.6 1564.6 165.8 1563.4C171.1 1562.3 176.4 1559.5 181.6 1558.1C186.9 1556.6 192.2 1555.4 197.4 1554.6C203.8 1553.6 210.1 1553.5 216.4 1553.0C224.8 1552.4 233.3 1552.2 241.7 1551.4C246.4 1551.0 251.2 1549.8 255.9 1549.8C261.7 1549.8 267.5 1551.5 273.3 1553.0C279.1 1554.5 284.9 1558.7 290.7 1558.7C293.3 1558.7 295.9 1558.1 298.6 1558.1C302.8 1558.1 307.0 1560.8 311.2 1561.9C318.6 1563.6 326.0 1565.0 333.3 1565.0C340.7 1565.0 348.1 1562.8 355.5 1562.8C363.9 1562.8 372.3 1566.6 380.7 1566.6C389.2 1566.6 397.6 1566.6 406.0 1566.6C415.5 1566.6 425.0 1566.6 434.5 1565.6C438.2 1565.3 441.8 1560.1 445.5 1558.7C448.2 1557.7 450.8 1558.2 453.4 1557.1C456.1 1556.1 458.7 1552.4 461.3 1552.4C463.4 1552.4 465.5 1557.5 467.7 1559.3C469.8 1561.2 471.9 1563.4 474.0 1563.4C477.7 1563.4 481.3 1559.4 485.0 1558.7C488.2 1558.1 491.4 1558.7 494.5 1558.1C496.3 1557.7 498.0 1552.3 499.8 1549.2C501.5 1546.0 503.3 1541.1 505.0 1539.2C506.2 1538.0 507.3 1537.3 508.4 1537.3C509.9 1537.3 511.4 1542.8 512.9 1545.2C515.1 1548.8 517.3 1552.9 519.5 1554.5C520.8 1555.4 522.1 1555.8 523.5 1555.8C525.2 1555.8 527.0 1552.5 528.7 1549.2C530.5 1545.9 532.2 1539.3 534.0 1536.0C535.5 1533.3 537.0 1530.2 538.5 1530.2C540.0 1530.2 541.6 1536.6 543.2 1540.0C545.1 1544.1 547.1 1550.6 549.0 1553.1C550.6 1555.2 552.2 1555.8 553.7 1555.8C556.8 1555.8 559.9 1553.3 563.0 1551.8C565.6 1550.6 568.2 1551.8 570.9 1547.9C572.4 1545.6 573.8 1544.5 575.3 1533.4C576.5 1524.8 577.6 1509.9 578.8 1496.5C580.2 1480.5 581.6 1459.3 583.0 1443.9C584.2 1430.2 585.4 1416.4 586.6 1408.1C587.2 1404.4 587.7 1400.9 588.2 1399.1C588.9 1401.9 589.6 1407.0 590.4 1413.3C591.7 1425.0 593.0 1449.8 594.3 1464.9C595.7 1481.4 597.1 1497.7 598.5 1507.1C600.3 1518.6 602.0 1516.4 603.8 1520.2C606.4 1525.9 609.0 1529.2 611.7 1533.4C614.3 1537.6 616.9 1542.6 619.6 1545.2C623.0 1548.6 626.3 1548.7 629.7 1548.7C631.9 1548.7 634.1 1548.7 636.3 1543.9C638.0 1540.3 639.7 1528.2 641.4 1522.9C642.5 1519.4 643.6 1516.0 644.7 1514.4C645.3 1513.6 645.8 1512.9 646.4 1512.9C647.6 1512.9 648.7 1517.9 649.9 1520.2C651.6 1523.7 653.4 1529.4 655.1 1529.4C656.6 1529.4 658.1 1529.4 659.6 1520.2C660.9 1512.4 662.2 1496.8 663.4 1483.4C664.8 1469.1 666.2 1448.7 667.5 1436.7C668.5 1428.3 669.4 1421.7 670.4 1416.7C670.6 1415.3 670.9 1413.5 671.2 1412.8C672.0 1415.5 672.8 1423.1 673.6 1428.1C674.7 1434.9 675.8 1444.0 676.9 1447.8C677.8 1450.9 678.7 1451.8 679.6 1451.8C680.7 1451.8 681.7 1447.3 682.8 1441.2C683.7 1436.2 684.5 1424.0 685.4 1420.7C686.1 1418.0 686.8 1418.0 687.5 1418.0C688.1 1418.0 688.7 1424.2 689.3 1429.0C690.7 1439.7 692.1 1462.0 693.5 1478.1C695.0 1495.9 696.5 1518.2 698.1 1530.8C699.8 1545.3 701.6 1549.0 703.3 1554.5C705.1 1559.9 706.8 1561.6 708.6 1563.7C709.6 1564.9 710.7 1566.3 711.8 1566.3C713.9 1566.3 716.1 1563.0 718.3 1559.7C720.5 1556.4 722.7 1557.0 724.9 1546.6C726.7 1538.2 728.4 1527.4 730.2 1509.7C731.7 1494.4 733.2 1470.1 734.7 1451.8C736.1 1435.2 737.4 1416.7 738.8 1404.5C739.3 1400.4 739.7 1395.5 740.2 1393.3C741.0 1396.7 741.8 1403.3 742.6 1410.2C744.1 1423.1 745.6 1445.8 747.0 1462.3C748.9 1483.0 750.7 1506.3 752.6 1520.2C754.3 1533.4 756.1 1540.3 757.8 1545.2C759.4 1549.5 760.9 1550.5 762.4 1550.5C763.8 1550.5 765.1 1547.1 766.5 1542.6C767.9 1538.0 769.3 1529.6 770.7 1522.9C772.1 1516.0 773.5 1506.9 774.9 1501.8C775.8 1498.6 776.7 1494.8 777.6 1494.4C778.6 1494.9 779.7 1500.0 780.7 1504.4C782.1 1510.3 783.5 1522.4 784.9 1528.1C786.7 1535.5 788.5 1539.4 790.3 1539.5C792.1 1539.3 793.9 1534.0 795.7 1522.9C797.2 1513.6 798.7 1496.0 800.2 1483.4C801.7 1470.8 803.1 1455.8 804.6 1447.2C805.6 1441.5 806.6 1436.5 807.6 1434.6C808.6 1437.0 809.6 1442.7 810.5 1450.3C811.9 1461.0 813.3 1483.2 814.6 1496.5C816.2 1511.3 817.7 1525.3 819.2 1533.4C820.7 1541.4 822.2 1542.8 823.7 1545.2C826.1 1549.1 828.4 1547.2 830.8 1549.1C834.0 1551.6 837.2 1557.4 840.3 1560.0C843.0 1562.1 845.7 1564.0 848.4 1564.0C850.7 1564.0 853.0 1562.4 855.2 1560.0C857.9 1557.0 860.6 1549.1 863.3 1546.4C864.9 1544.9 866.4 1543.7 867.9 1543.7C869.6 1543.7 871.2 1548.1 872.8 1550.5C875.1 1553.8 877.3 1559.7 879.6 1561.3C881.5 1562.7 883.5 1562.7 885.4 1562.7C887.7 1562.7 890.0 1562.7 892.3 1557.2C894.2 1552.7 896.1 1543.3 898.0 1534.2C900.0 1524.9 901.9 1508.6 903.9 1501.7C905.1 1497.5 906.3 1495.4 907.5 1493.6C907.9 1493.1 908.2 1492.2 908.6 1492.2C909.5 1492.2 910.4 1500.1 911.3 1504.4C913.0 1512.5 914.7 1524.4 916.4 1531.5C918.0 1538.1 919.6 1543.7 921.2 1546.4C922.8 1549.1 924.4 1549.1 925.9 1549.1C927.5 1549.1 929.0 1544.9 930.5 1539.6C932.2 1534.0 933.8 1522.5 935.5 1515.3C936.7 1509.8 938.0 1502.9 939.2 1500.4C939.8 1499.1 940.5 1498.5 941.1 1498.5C942.0 1498.5 942.9 1503.4 943.8 1507.1C945.5 1514.2 947.2 1529.1 948.9 1536.9C950.5 1544.2 952.1 1549.4 953.7 1553.2C956.0 1558.6 958.2 1557.9 960.5 1559.4C962.8 1560.9 965.0 1561.4 967.3 1562.1C969.6 1562.9 971.8 1564.0 974.1 1564.0C976.9 1564.0 979.7 1561.8 982.5 1560.8C984.5 1560.0 986.5 1558.6 988.5 1558.6C991.0 1558.6 993.5 1561.0 996.1 1561.9C998.8 1562.8 1001.5 1563.5 1004.2 1564.0C1006.9 1564.5 1009.6 1564.8 1012.3 1564.8C1015.5 1564.8 1018.6 1564.4 1021.8 1561.9C1024.5 1559.7 1027.2 1556.6 1029.9 1551.8C1032.2 1547.9 1034.4 1540.6 1036.7 1536.9C1038.3 1534.3 1040.0 1531.0 1041.6 1531.0C1043.1 1531.0 1044.7 1535.5 1046.2 1538.3C1047.5 1540.7 1048.9 1544.9 1050.2 1546.4C1051.3 1547.6 1052.4 1547.8 1053.5 1547.8C1055.1 1547.8 1056.7 1542.7 1058.4 1541.0C1060.0 1539.3 1061.6 1537.5 1063.3 1537.5C1064.8 1537.5 1066.3 1541.6 1067.9 1543.7C1070.1 1546.8 1072.4 1551.0 1074.6 1553.2C1076.9 1555.3 1079.1 1555.9 1081.4 1556.7C1083.2 1557.4 1085.0 1558.1 1086.8 1558.1C1088.6 1558.1 1090.4 1552.3 1092.2 1550.5C1093.8 1548.9 1095.3 1547.2 1096.8 1547.2C1098.9 1547.2 1101.0 1550.1 1103.1 1551.8C1105.8 1554.1 1108.5 1557.8 1111.2 1560.0C1114.4 1562.5 1117.5 1565.4 1120.7 1565.4C1122.9 1565.4 1125.2 1563.8 1127.4 1561.3C1130.2 1558.4 1132.9 1550.9 1135.6 1547.8C1137.8 1545.2 1140.1 1543.7 1142.3 1542.9C1143.7 1542.4 1145.1 1542.3 1146.4 1542.3C1148.2 1542.3 1150.0 1546.3 1151.8 1549.1C1154.1 1552.7 1156.3 1560.4 1158.6 1562.7C1162.7 1566.7 1166.9 1565.4 1171.0 1566.7"/>
<path stroke="#ff8000" d="M98.0 1709.3C101.4 1702.0 104.9 1704.1 108.3 1687.5C110.2 1678.6 112.0 1666.1 113.9 1652.7C115.9 1638.0 117.9 1617.1 120.0 1602.2C121.5 1591.1 123.0 1578.4 124.5 1572.1C125.3 1568.7 126.1 1565.6 127.0 1565.2C128.1 1566.0 129.2 1574.0 130.3 1580.6C132.0 1590.7 133.7 1607.5 135.4 1621.1C137.1 1634.7 138.8 1650.5 140.5 1662.2C142.7 1676.8 144.8 1687.9 146.9 1697.0C149.5 1708.3 152.2 1713.7 154.8 1719.1C157.9 1725.6 161.1 1727.5 164.3 1730.2C169.0 1734.1 173.7 1734.2 178.5 1734.9C184.8 1735.8 191.1 1735.8 197.4 1735.8C203.8 1735.8 210.1 1735.7 216.4 1734.9C221.2 1734.3 225.9 1732.4 230.6 1732.4C236.4 1732.4 242.2 1735.5 248.0 1735.5C256.4 1735.5 264.9 1735.3 273.3 1734.9C280.7 1734.5 288.0 1734.4 295.4 1733.3C300.7 1732.5 306.0 1730.8 311.2 1730.2C316.5 1729.5 321.8 1730.1 327.0 1729.5C332.1 1729.0 337.1 1727.0 342.2 1727.0C346.6 1727.0 351.0 1731.1 355.5 1732.4C361.8 1734.2 368.1 1734.5 374.4 1734.9C385.0 1735.5 395.5 1735.5 406.0 1735.5C414.5 1735.5 422.9 1735.0 431.3 1733.3C436.6 1732.3 441.8 1730.0 447.1 1729.2C451.3 1728.6 455.5 1728.6 459.8 1728.6C464.5 1728.6 469.3 1730.8 474.0 1730.8C478.8 1730.8 483.5 1729.8 488.3 1727.0C492.2 1724.7 496.1 1720.3 500.0 1716.9C503.1 1714.3 506.2 1712.2 509.3 1709.0C512.0 1706.3 514.7 1705.3 517.3 1699.8C519.2 1696.1 521.0 1693.0 522.8 1685.3C524.5 1678.2 526.2 1665.1 528.0 1656.4C529.3 1649.7 530.6 1641.6 531.9 1637.9C532.8 1635.5 533.6 1634.0 534.5 1634.0C535.4 1634.0 536.3 1641.7 537.1 1645.8C539.0 1654.6 540.8 1667.1 542.7 1674.8C544.7 1683.2 546.6 1689.3 548.6 1693.2C550.8 1697.6 553.0 1698.0 555.2 1698.0C557.6 1698.0 559.9 1695.8 562.2 1693.2C564.9 1690.2 567.6 1685.5 570.3 1680.1C572.6 1675.5 574.8 1668.8 577.1 1664.3C578.9 1660.7 580.7 1656.4 582.5 1655.1C584.2 1653.7 586.0 1654.2 587.8 1653.7C589.5 1653.3 591.3 1653.7 593.1 1652.4C594.4 1651.4 595.8 1643.7 597.2 1640.6C598.5 1637.5 599.9 1635.1 601.2 1634.0C602.1 1633.3 602.9 1633.2 603.8 1633.2C605.5 1633.2 607.3 1636.8 609.0 1637.9C611.2 1639.3 613.4 1638.1 615.6 1639.8C617.4 1641.1 619.1 1644.0 620.9 1645.8C622.7 1647.6 624.4 1650.6 626.2 1650.6C627.7 1650.6 629.1 1647.2 630.6 1645.8C632.0 1644.6 633.3 1642.7 634.6 1642.7C636.2 1642.7 637.8 1645.8 639.3 1648.5C641.5 1652.2 643.7 1659.9 645.9 1664.3C648.1 1668.7 650.3 1672.7 652.5 1674.8C654.7 1676.9 656.9 1676.9 659.1 1676.9C660.8 1676.9 662.6 1671.4 664.3 1669.5C666.3 1667.5 668.2 1665.6 670.1 1665.6C672.3 1665.6 674.5 1667.9 676.6 1669.0C678.9 1670.1 681.1 1669.0 683.3 1672.2C684.6 1674.1 686.0 1680.3 687.3 1685.3C689.2 1692.1 691.0 1702.4 692.8 1709.0C695.1 1717.2 697.3 1723.6 699.6 1727.5C701.6 1730.9 703.6 1732.2 705.7 1732.2C707.7 1732.2 709.7 1727.3 711.8 1724.8C714.4 1721.7 717.0 1717.8 719.7 1715.6C722.3 1713.4 724.9 1712.6 727.6 1711.7C730.2 1710.8 732.8 1710.4 735.5 1710.4C737.2 1710.4 739.0 1713.2 740.7 1715.6C742.9 1718.6 745.1 1724.2 747.3 1727.5C749.5 1730.8 751.7 1733.6 753.9 1735.4C757.2 1738.0 760.6 1738.0 763.9 1738.0C767.0 1738.0 770.1 1736.1 773.2 1735.4C777.6 1734.3 782.0 1735.4 786.4 1732.7C788.6 1731.4 790.8 1728.7 793.1 1724.8C795.3 1720.9 797.6 1714.1 799.9 1709.0C801.7 1705.0 803.5 1700.0 805.3 1697.2C806.0 1696.1 806.7 1694.6 807.4 1694.6C808.6 1694.6 809.8 1699.7 811.0 1702.5C813.2 1707.6 815.5 1715.3 817.7 1719.6C820.0 1723.8 822.2 1726.2 824.4 1728.3C826.4 1730.1 828.3 1731.4 830.3 1731.7C835.7 1732.5 841.1 1732.5 846.5 1732.5C851.2 1732.5 855.9 1731.2 860.6 1731.2C863.8 1731.2 867.0 1733.0 870.1 1733.0C872.4 1733.0 874.6 1731.5 876.9 1730.3C879.1 1729.2 881.4 1726.3 883.7 1726.3C886.8 1726.3 890.0 1727.6 893.1 1727.6C895.4 1727.6 897.7 1725.3 899.9 1723.6C901.7 1722.2 903.5 1719.4 905.3 1718.7C906.7 1718.1 908.0 1718.1 909.4 1718.1C911.6 1718.1 913.9 1720.9 916.2 1722.2C918.7 1723.7 921.3 1726.3 923.8 1726.3C926.1 1726.3 928.4 1725.1 930.7 1723.6C933.4 1721.7 936.1 1719.0 938.9 1715.4C941.2 1712.4 943.5 1708.7 945.8 1704.6C947.7 1701.3 949.5 1696.2 951.4 1693.8C952.3 1692.6 953.2 1691.1 954.1 1691.1C955.1 1691.1 956.2 1691.8 957.3 1693.8C958.7 1696.4 960.1 1703.0 961.5 1707.3C963.3 1713.1 965.2 1719.7 967.0 1723.6C968.8 1727.4 970.7 1728.9 972.5 1730.3C974.0 1731.6 975.6 1732.2 977.1 1732.2C979.8 1732.2 982.5 1728.4 985.2 1726.3C987.9 1724.2 990.7 1721.6 993.4 1719.5C995.2 1718.1 997.0 1715.4 998.8 1715.4C1000.1 1715.4 1001.5 1715.4 1002.8 1716.8C1004.2 1718.1 1005.6 1723.4 1006.9 1726.3C1008.7 1730.2 1010.5 1734.4 1012.3 1736.6C1014.1 1738.7 1015.9 1739.3 1017.7 1739.3C1020.5 1739.3 1023.2 1735.5 1025.9 1734.4C1028.6 1733.3 1031.3 1732.5 1034.0 1732.5C1039.4 1732.5 1044.8 1732.5 1050.2 1732.5C1054.3 1732.5 1058.4 1731.7 1062.4 1731.7C1065.6 1731.7 1068.8 1732.7 1071.9 1733.0C1075.1 1733.4 1078.2 1733.9 1081.4 1733.9C1084.1 1733.9 1086.8 1731.3 1089.5 1730.3C1091.8 1729.5 1094.0 1728.2 1096.3 1728.2C1099.0 1728.2 1101.7 1730.8 1104.4 1731.7C1108.0 1732.9 1111.6 1733.3 1115.3 1733.9C1118.9 1734.4 1122.5 1734.9 1126.1 1734.9C1129.3 1734.9 1132.4 1732.7 1135.6 1732.2C1139.2 1731.7 1142.8 1731.7 1146.4 1731.7C1149.6 1731.7 1152.7 1734.2 1155.9 1734.9C1160.9 1736.2 1166.0 1735.8 1171.0 1736.3"/>
<path stroke="#ff0080" d="M98.0 1913.5C101.4 1907.7 104.9 1913.3 108.3 1896.1C109.8 1888.7 111.3 1883.5 112.8 1867.6C114.2 1852.4 115.6 1824.5 117.0 1804.4C118.6 1782.3 120.1 1758.2 121.7 1741.6C122.7 1730.6 123.7 1719.8 124.8 1714.4C125.8 1720.0 126.9 1730.1 127.9 1742.6C129.5 1761.5 131.1 1797.7 132.7 1820.2C134.0 1839.6 135.4 1860.5 136.8 1870.8C138.2 1881.9 139.7 1881.0 141.2 1881.9C142.9 1882.8 144.6 1882.8 146.3 1882.8C150.7 1882.8 155.1 1878.9 159.5 1877.1C164.8 1875.0 170.1 1872.7 175.3 1871.4C181.6 1869.9 188.0 1869.8 194.3 1869.8C202.7 1869.8 211.1 1870.4 219.6 1872.4C225.9 1873.8 232.2 1877.0 238.5 1878.7C248.0 1881.2 257.5 1882.2 267.0 1883.4C276.5 1884.6 285.9 1886.0 295.4 1886.0C304.9 1886.0 314.4 1885.8 323.9 1885.0C330.2 1884.5 336.5 1884.2 342.8 1882.8C346.5 1882.0 350.2 1879.6 353.9 1879.6C357.0 1879.6 360.2 1883.0 363.4 1884.4C367.1 1886.0 370.7 1888.2 374.4 1888.2C383.9 1888.2 393.4 1886.0 402.9 1886.0C411.3 1886.0 419.7 1886.0 428.1 1886.0C433.4 1886.0 438.7 1879.6 444.0 1879.6C447.1 1879.6 450.3 1880.3 453.4 1880.3C456.6 1880.3 459.8 1877.1 462.9 1877.1C466.1 1877.1 469.2 1882.5 472.4 1882.5C477.7 1882.5 482.9 1880.1 488.2 1877.1C491.6 1875.2 495.0 1874.0 498.4 1869.7C500.6 1866.9 502.8 1860.9 505.0 1859.2C506.2 1858.2 507.3 1857.8 508.4 1857.8C509.9 1857.8 511.4 1861.5 512.9 1863.1C515.1 1865.5 517.3 1869.7 519.5 1869.7C521.3 1869.7 523.0 1865.1 524.8 1861.8C527.0 1857.6 529.2 1849.4 531.4 1846.0C533.1 1843.3 534.9 1841.5 536.6 1841.5C538.4 1841.5 540.1 1845.8 541.9 1848.6C543.9 1851.9 545.9 1858.7 547.9 1860.5C549.4 1861.8 550.9 1861.8 552.4 1861.8C555.5 1861.8 558.6 1859.5 561.6 1856.5C564.3 1853.9 566.9 1852.1 569.6 1846.0C571.6 1841.3 573.6 1839.1 575.6 1827.6C577.2 1818.5 578.8 1802.9 580.3 1790.7C581.7 1780.1 583.1 1766.3 584.5 1759.1C585.5 1753.8 586.5 1750.4 587.5 1748.5C587.8 1747.9 588.2 1747.2 588.5 1747.2C589.1 1747.2 589.7 1753.0 590.3 1756.6C591.5 1764.0 592.8 1778.1 594.0 1785.4C595.4 1793.5 596.7 1798.8 598.1 1801.2C600.3 1805.2 602.5 1803.4 604.7 1805.2C606.9 1806.9 609.1 1809.9 611.4 1811.8C614.0 1814.0 616.7 1815.9 619.3 1817.0C621.5 1817.9 623.7 1818.3 625.9 1818.3C628.2 1818.3 630.5 1816.4 632.7 1814.4C634.9 1812.4 637.1 1812.0 639.3 1806.5C640.6 1803.2 642.0 1795.8 643.3 1793.3C644.3 1791.4 645.4 1791.2 646.4 1791.2C647.8 1791.2 649.3 1798.7 650.7 1801.2C652.3 1804.1 653.9 1806.5 655.5 1806.5C657.1 1806.5 658.6 1802.1 660.2 1796.0C661.7 1789.8 663.2 1779.8 664.7 1769.6C665.9 1761.8 667.1 1750.1 668.3 1743.5C668.9 1740.0 669.5 1735.6 670.1 1734.9C671.3 1735.8 672.4 1742.0 673.6 1745.9C674.9 1750.4 676.2 1757.7 677.5 1760.4C678.4 1762.2 679.3 1763.0 680.2 1763.0C681.0 1763.0 681.9 1758.0 682.8 1753.8C683.7 1749.6 684.5 1740.6 685.4 1738.0C686.1 1735.9 686.8 1735.9 687.5 1735.9C688.1 1735.9 688.7 1742.1 689.3 1746.4C690.7 1755.8 692.0 1773.8 693.4 1785.4C695.1 1800.0 696.8 1813.0 698.5 1822.3C700.7 1834.6 702.9 1838.6 705.2 1843.4C707.4 1848.0 709.6 1850.7 711.8 1850.7C714.0 1850.7 716.3 1843.6 718.5 1840.7C721.6 1836.7 724.7 1840.6 727.9 1831.5C729.5 1826.6 731.2 1822.7 732.9 1811.8C734.3 1802.6 735.7 1785.2 737.1 1774.9C738.0 1768.0 738.9 1761.2 739.9 1756.8C740.2 1755.5 740.4 1753.8 740.7 1753.3C741.5 1755.3 742.3 1761.8 743.1 1767.3C744.6 1778.0 746.2 1797.2 747.7 1809.1C749.6 1823.6 751.4 1835.5 753.3 1843.4C755.2 1851.7 757.2 1853.8 759.2 1856.5C760.7 1858.7 762.3 1859.9 763.9 1859.9C765.7 1859.9 767.4 1855.8 769.2 1851.3C770.9 1846.7 772.7 1836.8 774.4 1832.8C775.9 1829.5 777.4 1827.6 778.9 1827.6C780.2 1827.6 781.5 1832.0 782.9 1835.5C784.4 1839.6 786.0 1848.3 787.6 1851.3C789.0 1853.9 790.4 1853.9 791.7 1853.9C793.4 1853.9 795.0 1847.9 796.7 1840.7C798.4 1833.2 800.1 1818.3 801.9 1809.1C803.2 1802.2 804.5 1794.8 805.8 1790.7C806.3 1789.1 806.8 1786.9 807.4 1786.7C808.3 1787.2 809.3 1793.6 810.2 1799.2C811.7 1807.4 813.1 1823.0 814.5 1832.8C816.0 1843.1 817.5 1853.2 819.0 1859.2C820.7 1866.3 822.5 1867.1 824.3 1868.4C826.4 1869.8 828.6 1868.8 830.7 1869.8C833.9 1871.4 837.1 1875.9 840.2 1878.0C842.5 1879.5 844.8 1881.5 847.0 1881.5C849.8 1881.5 852.5 1880.3 855.2 1878.0C857.9 1875.7 860.6 1869.8 863.3 1867.7C865.0 1866.4 866.6 1865.2 868.2 1865.2C870.2 1865.2 872.2 1869.6 874.2 1871.2C877.3 1873.6 880.4 1875.3 883.6 1875.3C886.3 1875.3 889.0 1874.5 891.8 1869.8C893.9 1866.2 896.1 1860.2 898.2 1853.6C900.1 1847.7 902.0 1837.7 903.9 1833.3C905.0 1830.7 906.1 1827.9 907.2 1827.9C908.6 1827.9 909.9 1834.7 911.3 1838.7C913.3 1844.7 915.4 1854.7 917.4 1859.0C919.1 1862.4 920.7 1863.6 922.4 1864.4C923.4 1865.0 924.5 1865.0 925.6 1865.0C927.4 1865.0 929.2 1861.4 931.1 1856.3C932.7 1851.7 934.3 1841.7 935.9 1837.3C937.5 1833.2 939.0 1830.0 940.5 1830.0C941.6 1830.0 942.7 1834.4 943.8 1837.3C945.4 1841.9 947.1 1853.1 948.8 1854.9C951.3 1857.7 953.7 1854.9 956.1 1857.7C958.0 1859.7 959.8 1864.3 961.6 1867.1C963.9 1870.7 966.2 1874.5 968.5 1876.6C971.0 1879.0 973.6 1880.1 976.1 1880.1C979.2 1880.1 982.2 1876.8 985.2 1875.3C987.9 1873.9 990.7 1871.2 993.4 1871.2C996.1 1871.2 998.8 1875.1 1001.5 1876.6C1004.7 1878.4 1007.8 1879.7 1011.0 1880.7C1013.2 1881.3 1015.5 1882.0 1017.7 1882.0C1020.9 1882.0 1024.1 1880.4 1027.2 1878.0C1029.5 1876.2 1031.7 1874.3 1034.0 1871.2C1035.6 1868.9 1037.2 1864.7 1038.9 1863.1C1040.0 1862.0 1041.0 1861.2 1042.1 1861.2C1043.7 1861.2 1045.4 1865.4 1047.0 1867.1C1048.8 1869.1 1050.6 1872.0 1052.4 1872.0C1054.2 1872.0 1056.0 1868.4 1057.8 1867.1C1059.5 1865.9 1061.3 1864.4 1063.0 1864.4C1064.6 1864.4 1066.2 1868.1 1067.9 1869.8C1070.1 1872.2 1072.4 1875.3 1074.6 1876.6C1076.9 1878.0 1079.1 1878.0 1081.4 1878.0C1084.1 1878.0 1086.8 1875.4 1089.5 1873.9C1091.8 1872.7 1094.0 1869.8 1096.3 1869.8C1099.0 1869.8 1101.7 1872.5 1104.4 1873.9C1107.6 1875.6 1110.7 1877.9 1113.9 1879.3C1116.6 1880.5 1119.3 1882.0 1122.0 1882.0C1124.3 1882.0 1126.5 1880.0 1128.8 1878.0C1131.1 1875.9 1133.3 1871.8 1135.6 1869.8C1138.3 1867.5 1141.0 1865.8 1143.7 1865.8C1146.0 1865.8 1148.2 1867.9 1150.5 1869.8C1153.2 1872.2 1155.9 1877.1 1158.6 1879.3C1162.7 1882.8 1166.9 1882.0 1171.0 1883.4"/>
<path stroke="#0000a0" d="M98.0 2201.0C101.4 2192.3 104.9 2194.5 108.3 2174.9C109.9 2165.7 111.6 2152.9 113.2 2140.1C115.0 2125.8 116.8 2106.9 118.6 2092.7C120.2 2079.8 121.9 2066.0 123.5 2058.0C124.4 2053.3 125.4 2048.7 126.3 2047.5C127.5 2049.4 128.6 2057.8 129.7 2064.7C131.6 2076.7 133.6 2095.3 135.5 2111.7C137.4 2127.8 139.3 2148.7 141.2 2162.3C142.9 2174.3 144.6 2183.9 146.3 2190.7C148.0 2197.9 149.8 2200.6 151.6 2203.3C153.7 2206.6 155.8 2207.1 157.9 2207.1C160.1 2207.1 162.2 2206.7 164.3 2205.9C165.8 2205.3 167.4 2203.3 169.0 2203.3C171.6 2203.3 174.3 2207.4 176.9 2207.4C182.7 2207.4 188.5 2207.4 194.3 2207.1C199.3 2206.9 204.4 2204.3 209.5 2204.3C214.9 2204.3 220.4 2205.9 225.9 2205.9C233.3 2205.9 240.6 2205.9 248.0 2205.9C252.8 2205.9 257.5 2204.3 262.2 2204.3C268.0 2204.3 273.8 2206.5 279.6 2207.1C284.9 2207.7 290.2 2207.6 295.4 2208.1C300.7 2208.6 306.0 2210.3 311.2 2210.3C318.6 2210.3 326.0 2210.3 333.3 2209.0C337.6 2208.3 341.8 2205.4 346.0 2204.3C349.1 2203.4 352.3 2202.4 355.5 2202.4C359.7 2202.4 363.9 2203.1 368.1 2204.0C371.3 2204.6 374.4 2206.5 377.6 2206.5C381.3 2206.5 385.0 2203.6 388.6 2202.7C392.9 2201.6 397.1 2200.8 401.3 2200.8C405.0 2200.8 408.7 2202.7 412.3 2203.3C416.6 2204.1 420.8 2204.9 425.0 2204.9C428.7 2204.9 432.4 2203.3 436.0 2200.8C438.2 2199.4 440.3 2197.1 442.4 2195.4C444.2 2194.1 446.0 2191.6 447.7 2191.6C449.6 2191.6 451.5 2192.3 453.4 2192.3C455.5 2192.3 457.6 2186.0 459.8 2186.0C461.3 2186.0 462.9 2186.7 464.5 2189.1C466.1 2191.5 467.7 2197.5 469.2 2200.2C472.0 2204.9 474.8 2204.9 477.6 2204.9C481.3 2204.9 485.0 2204.9 488.8 2200.2C492.8 2195.1 496.8 2184.4 500.8 2168.7C502.2 2163.2 503.6 2155.1 505.0 2150.3C505.9 2147.1 506.8 2144.0 507.7 2142.4C508.4 2141.1 509.1 2140.3 509.8 2140.3C510.8 2140.3 511.9 2145.6 512.9 2147.6C514.2 2150.1 515.6 2152.9 516.9 2152.9C517.9 2152.9 519.0 2152.6 520.0 2142.4C520.9 2133.9 521.8 2120.4 522.7 2102.9C523.5 2085.3 524.4 2061.0 525.3 2037.0C526.2 2012.8 527.1 1980.4 528.0 1958.0C529.2 1927.5 530.4 1908.5 531.6 1888.7C532.1 1879.9 532.7 1869.6 533.2 1864.3C533.4 1862.6 533.5 1860.9 533.7 1860.0C534.0 1861.9 534.2 1866.0 534.5 1869.5C535.3 1881.6 536.2 1899.8 537.0 1918.9C538.0 1941.4 539.0 1971.9 540.0 1997.5C541.1 2024.5 542.2 2054.4 543.2 2076.5C544.5 2104.2 545.8 2124.9 547.2 2139.7C548.6 2156.5 550.1 2160.3 551.6 2166.1C553.4 2172.9 555.1 2174.0 556.9 2174.0C558.9 2174.0 560.9 2170.5 563.0 2166.1C565.2 2161.2 567.3 2159.3 569.5 2145.0C571.1 2134.7 572.7 2128.1 574.3 2102.9C575.5 2083.3 576.7 2056.1 578.0 2023.9C579.1 1993.8 580.3 1946.8 581.4 1918.5C582.8 1884.0 584.2 1864.6 585.6 1845.4C586.2 1836.9 586.8 1828.2 587.4 1823.0C587.6 1821.6 587.8 1820.0 588.0 1819.2C588.3 1821.3 588.7 1825.7 589.0 1829.8C590.2 1843.8 591.3 1871.3 592.5 1892.2C593.8 1915.8 595.1 1940.7 596.4 1963.3C597.8 1987.4 599.2 2012.0 600.6 2031.8C602.1 2052.8 603.6 2071.5 605.1 2084.4C606.8 2099.6 608.6 2105.1 610.4 2110.8C612.1 2116.5 613.9 2118.7 615.6 2118.7C617.4 2118.7 619.1 2118.7 620.9 2113.4C622.2 2109.4 623.6 2106.2 624.9 2095.0C626.2 2084.5 627.5 2064.0 628.7 2050.2C630.1 2035.5 631.4 2018.1 632.7 2009.9C633.4 2005.6 634.1 2001.5 634.9 2001.5C636.1 2001.5 637.3 2007.1 638.5 2008.1C640.2 2009.4 642.0 2008.1 643.8 2009.4C644.7 2010.0 645.6 2012.3 646.5 2018.6C647.5 2025.4 648.4 2040.1 649.4 2050.2C650.6 2062.2 651.7 2078.2 652.9 2084.4C653.8 2089.3 654.7 2089.7 655.6 2089.7C656.6 2089.7 657.6 2089.2 658.6 2076.5C659.4 2065.4 660.3 2044.4 661.2 2023.9C662.1 2002.0 663.1 1969.4 664.0 1948.2C665.2 1921.7 666.3 1903.1 667.5 1887.6C668.2 1878.2 669.0 1870.0 669.7 1864.7C669.9 1862.9 670.2 1861.0 670.4 1860.0C670.9 1862.8 671.5 1869.3 672.0 1873.7C672.9 1881.6 673.9 1891.5 674.8 1896.1C675.9 1901.4 677.0 1901.4 678.1 1901.4C679.2 1901.4 680.3 1896.8 681.5 1886.9C682.3 1879.4 683.2 1864.1 684.0 1855.6C684.4 1851.8 684.8 1847.5 685.2 1845.3C685.3 1844.2 685.5 1843.3 685.7 1842.9C686.0 1845.2 686.4 1851.5 686.7 1856.7C687.7 1870.7 688.6 1888.5 689.6 1911.4C690.7 1936.9 691.7 1974.3 692.8 2005.4C693.8 2036.3 694.9 2071.3 696.0 2097.6C697.0 2123.9 698.1 2147.0 699.1 2163.4C700.3 2181.3 701.4 2190.1 702.5 2197.7C703.6 2204.7 704.6 2207.8 705.7 2209.0C706.7 2207.5 707.6 2203.6 708.6 2195.0C709.6 2185.7 710.7 2165.6 711.8 2152.9C712.9 2139.1 714.0 2126.1 715.2 2116.0C716.2 2106.7 717.3 2096.8 718.3 2093.6C719.7 2089.7 721.0 2091.0 722.3 2089.7C723.6 2088.4 724.9 2089.7 726.2 2085.7C727.1 2083.1 728.0 2078.9 728.9 2068.6C730.0 2055.3 731.2 2027.8 732.3 2005.4C733.6 1980.7 734.8 1948.0 736.1 1926.5C737.2 1908.1 738.3 1895.8 739.3 1881.9C739.6 1878.2 739.9 1873.3 740.2 1871.1C740.7 1874.5 741.3 1881.6 741.8 1888.3C742.9 1902.6 744.1 1923.4 745.2 1944.8C746.5 1969.5 747.8 2000.7 749.1 2029.1C750.5 2057.7 751.8 2090.6 753.1 2116.0C754.2 2138.0 755.4 2160.4 756.5 2174.0C757.4 2184.4 758.3 2190.7 759.2 2195.0C759.9 2198.5 760.6 2200.1 761.3 2200.3C762.4 2199.9 763.5 2193.3 764.6 2187.1C766.1 2178.9 767.6 2164.3 769.1 2152.9C770.5 2141.5 772.0 2127.2 773.5 2118.7C774.6 2112.2 775.7 2107.1 776.9 2104.2C777.2 2103.3 777.5 2102.1 777.9 2102.1C778.6 2102.2 779.3 2109.0 780.0 2113.6C781.2 2121.7 782.4 2136.6 783.7 2145.0C784.9 2153.1 786.1 2160.9 787.3 2163.4C787.9 2164.7 788.5 2164.7 789.1 2164.7C790.1 2164.7 791.1 2161.9 792.1 2150.3C793.1 2137.8 794.2 2111.0 795.2 2089.7C796.5 2064.9 797.7 2032.4 798.9 2010.7C800.3 1985.6 801.7 1968.0 803.1 1953.8C804.0 1944.7 804.9 1937.5 805.8 1932.3C806.1 1930.9 806.3 1929.3 806.6 1928.5C807.2 1931.7 807.8 1937.7 808.4 1944.2C809.6 1957.1 810.9 1976.0 812.1 1997.9C813.3 2020.0 814.5 2052.2 815.8 2076.5C817.1 2102.4 818.4 2131.0 819.7 2147.6C821.0 2164.3 822.4 2169.9 823.7 2176.6C826.1 2188.7 828.4 2184.8 830.8 2188.7C832.8 2192.0 834.8 2196.2 836.8 2198.2C838.4 2199.9 840.0 2200.9 841.7 2200.9C843.9 2200.9 846.2 2198.9 848.4 2196.8C851.2 2194.3 853.9 2190.6 856.6 2186.0C858.8 2182.2 861.1 2175.6 863.3 2172.5C864.7 2170.6 866.0 2168.4 867.4 2168.4C868.8 2168.4 870.1 2175.6 871.5 2179.2C873.3 2184.1 875.1 2191.1 876.9 2194.1C878.5 2196.8 880.1 2197.4 881.8 2197.4C883.7 2197.4 885.7 2196.9 887.7 2191.4C889.3 2187.0 891.0 2181.6 892.6 2171.1C894.3 2160.0 896.0 2140.4 897.7 2125.1C899.3 2111.1 900.9 2093.1 902.4 2083.1C903.6 2075.8 904.7 2071.3 905.9 2067.7C906.3 2066.2 906.8 2064.3 907.2 2064.1C908.0 2064.6 908.7 2071.7 909.4 2076.4C910.9 2085.7 912.3 2099.9 913.8 2111.5C915.2 2122.4 916.5 2136.9 917.9 2144.0C919.4 2151.8 920.8 2154.3 922.3 2154.3C923.6 2154.3 924.9 2152.3 926.2 2146.7C927.6 2140.5 929.1 2128.4 930.5 2116.9C931.9 2105.7 933.3 2090.6 934.8 2079.0C936.1 2068.2 937.4 2056.6 938.7 2049.2C940.1 2041.2 941.5 2037.9 943.0 2034.3C944.8 2029.7 946.6 2031.5 948.5 2027.5C949.9 2024.5 951.3 2018.7 952.7 2015.3C953.4 2013.6 954.2 2010.8 954.9 2010.7C955.7 2010.8 956.5 2015.5 957.3 2022.6C958.4 2031.7 959.4 2049.5 960.5 2065.7C961.5 2081.8 962.5 2103.7 963.6 2119.6C964.7 2136.3 965.7 2152.5 966.8 2163.0C968.0 2174.4 969.2 2179.3 970.3 2183.3C971.5 2187.4 972.7 2187.4 973.9 2187.4C975.2 2187.4 976.5 2184.1 977.8 2179.2C979.4 2173.4 981.0 2162.7 982.6 2152.1C984.0 2142.6 985.4 2128.5 986.8 2119.6C988.3 2110.0 989.9 2102.5 991.4 2098.0C992.5 2094.8 993.6 2092.6 994.7 2092.6C995.6 2092.6 996.5 2098.6 997.4 2103.4C998.8 2110.6 1000.1 2122.8 1001.5 2133.2C1003.1 2145.2 1004.6 2160.4 1006.2 2171.1C1007.6 2180.8 1009.0 2189.9 1010.4 2195.5C1012.1 2202.1 1013.8 2205.0 1015.4 2205.0C1017.1 2205.0 1018.7 2201.4 1020.4 2198.2C1022.5 2194.2 1024.5 2188.2 1026.6 2181.9C1028.7 2175.6 1030.8 2167.8 1032.8 2160.3C1034.6 2154.1 1036.3 2145.9 1038.0 2141.3C1039.1 2138.3 1040.2 2136.3 1041.3 2134.5C1041.8 2133.8 1042.2 2132.6 1042.7 2132.6C1043.8 2132.6 1045.0 2137.8 1046.2 2141.3C1047.4 2144.8 1048.5 2150.9 1049.7 2153.5C1050.8 2155.9 1051.9 2156.7 1053.0 2156.7C1054.3 2156.7 1055.7 2153.6 1057.0 2150.8C1058.2 2148.4 1059.4 2143.6 1060.5 2141.9C1061.6 2140.2 1062.7 2140.0 1063.8 2140.0C1064.6 2140.0 1065.4 2144.2 1066.2 2146.7C1067.7 2151.3 1069.2 2158.7 1070.7 2163.0C1072.7 2168.7 1074.7 2170.7 1076.7 2173.8C1078.6 2176.6 1080.4 2180.0 1082.2 2181.1C1083.6 2181.9 1084.9 2181.9 1086.3 2181.9C1087.8 2181.9 1089.4 2178.0 1090.9 2175.2C1092.2 2172.6 1093.6 2167.6 1094.9 2166.2C1096.0 2165.1 1097.1 2165.1 1098.2 2165.1C1099.1 2165.1 1100.0 2170.2 1100.9 2172.5C1102.7 2177.0 1104.6 2180.4 1106.4 2183.3C1108.2 2186.2 1110.0 2187.1 1111.9 2190.1C1113.7 2193.0 1115.6 2198.9 1117.4 2200.9C1118.7 2202.3 1120.0 2202.8 1121.3 2202.8C1123.1 2202.8 1125.0 2200.2 1126.8 2195.5C1128.7 2190.7 1130.6 2180.9 1132.5 2173.8C1134.2 2167.4 1136.0 2159.4 1137.7 2154.9C1138.8 2151.9 1139.9 2149.5 1141.0 2148.1C1141.5 2147.5 1141.9 2146.7 1142.3 2146.7C1143.4 2146.7 1144.5 2149.6 1145.6 2152.1C1147.1 2155.9 1148.7 2162.3 1150.3 2168.4C1152.0 2174.9 1153.7 2184.7 1155.4 2190.1C1156.8 2194.5 1158.1 2198.5 1159.5 2199.5C1163.2 2202.3 1166.9 2201.4 1170.6 2202.3"/>
<path stroke="#000000" d="M98.0 2363.5C101.1 2361.2 104.3 2363.2 107.4 2356.6C108.8 2353.7 110.1 2353.3 111.5 2345.6C112.8 2338.4 114.0 2328.0 115.3 2314.0C116.8 2297.6 118.2 2269.6 119.7 2250.7C121.0 2234.6 122.2 2217.4 123.5 2207.2C124.1 2202.0 124.8 2197.3 125.4 2194.8C126.2 2198.6 127.0 2205.5 127.8 2213.7C129.1 2227.3 130.5 2249.9 131.8 2269.7C133.1 2289.6 134.5 2318.4 135.8 2332.9C137.2 2347.7 138.6 2352.5 139.9 2356.6C141.7 2362.0 143.5 2361.2 145.3 2362.0C149.0 2363.6 152.7 2363.6 156.4 2363.6C165.8 2363.6 175.3 2363.3 184.8 2362.0C190.1 2361.3 195.3 2359.4 200.6 2359.1C208.0 2358.8 215.4 2358.8 222.7 2358.8C230.1 2358.8 237.5 2358.8 244.9 2358.8C252.2 2358.8 259.6 2360.1 267.0 2360.7C275.4 2361.5 283.8 2362.4 292.3 2362.9C300.7 2363.5 309.1 2363.9 317.5 2363.9C323.9 2363.9 330.2 2363.4 336.5 2362.9C341.8 2362.5 347.0 2361.4 352.3 2361.4C359.7 2361.4 367.1 2363.2 374.4 2363.9C383.9 2364.7 393.4 2365.5 402.9 2365.5C410.2 2365.5 417.6 2365.2 425.0 2364.5C429.2 2364.1 433.4 2364.0 437.6 2362.9C440.8 2362.2 444.0 2360.4 447.1 2359.8C450.3 2359.1 453.4 2359.8 456.6 2359.1C458.7 2358.7 460.8 2356.6 462.9 2356.6C464.5 2356.6 466.1 2358.8 467.7 2359.8C469.8 2361.0 471.9 2362.9 474.0 2362.9C477.7 2362.9 481.3 2360.6 485.0 2359.8C488.2 2359.1 491.4 2359.8 494.5 2358.2C495.8 2357.5 497.1 2356.4 498.4 2354.9C500.4 2352.7 502.3 2347.9 504.2 2345.7C505.8 2343.8 507.4 2341.7 509.0 2341.7C510.7 2341.7 512.5 2346.5 514.2 2348.3C516.4 2350.5 518.6 2352.8 520.8 2352.8C523.5 2352.8 526.1 2351.0 528.7 2348.3C530.9 2346.1 533.1 2341.3 535.3 2339.1C536.9 2337.5 538.5 2335.7 540.0 2335.7C541.8 2335.7 543.6 2339.9 545.3 2341.7C547.7 2344.2 550.1 2348.3 552.5 2348.3C555.6 2348.3 558.7 2346.3 561.8 2345.1C564.9 2344.0 568.0 2345.1 571.0 2341.2C572.8 2338.9 574.6 2338.2 576.4 2331.2C577.9 2325.6 579.3 2317.7 580.7 2307.5C582.0 2298.2 583.3 2282.6 584.6 2273.7C585.6 2267.2 586.5 2261.8 587.5 2257.9C587.8 2256.5 588.2 2254.7 588.5 2254.3C589.1 2255.5 589.7 2261.2 590.3 2265.4C591.6 2273.9 592.8 2288.8 594.0 2296.9C595.4 2306.0 596.8 2311.3 598.2 2315.4C599.9 2320.7 601.7 2319.4 603.5 2321.2C605.7 2323.4 607.9 2325.0 610.1 2327.2C612.8 2329.9 615.4 2333.9 618.1 2335.9C621.2 2338.3 624.3 2339.6 627.3 2339.6C630.0 2339.6 632.7 2339.6 635.4 2337.0C637.1 2335.2 638.9 2328.9 640.6 2325.9C642.4 2323.0 644.2 2319.3 645.9 2319.3C647.5 2319.3 649.1 2325.2 650.7 2327.2C652.6 2329.6 654.5 2331.7 656.4 2331.7C657.9 2331.7 659.4 2330.4 661.0 2323.3C662.2 2317.4 663.5 2306.1 664.8 2296.9C665.9 2288.5 667.1 2276.0 668.3 2270.6C669.3 2266.1 670.2 2264.1 671.2 2264.0C672.6 2264.3 674.0 2273.7 675.4 2278.5C676.6 2282.4 677.7 2288.0 678.8 2290.4C679.7 2292.2 680.6 2293.0 681.5 2293.0C682.3 2293.0 683.2 2287.1 684.1 2283.8C685.2 2279.4 686.4 2271.4 687.5 2269.3C688.3 2270.8 689.1 2274.5 689.9 2279.5C691.1 2287.5 692.4 2305.3 693.6 2315.4C695.2 2328.1 696.8 2337.5 698.4 2344.3C700.6 2354.0 702.8 2353.4 705.1 2356.2C707.7 2359.6 710.4 2361.5 713.0 2361.5C715.7 2361.5 718.3 2360.4 721.0 2357.5C723.2 2355.1 725.5 2354.5 727.7 2347.0C729.4 2341.3 731.1 2335.0 732.8 2323.3C734.2 2313.6 735.6 2297.2 737.0 2286.4C738.1 2278.2 739.1 2270.1 740.2 2264.3C740.6 2262.5 740.9 2260.3 741.2 2259.3C741.9 2261.5 742.6 2266.3 743.3 2270.9C744.8 2280.2 746.2 2296.6 747.6 2307.5C749.2 2319.6 750.8 2331.5 752.4 2339.1C754.2 2347.7 756.0 2350.5 757.8 2353.6C759.7 2356.8 761.6 2357.5 763.4 2357.5C765.4 2357.5 767.4 2354.3 769.4 2349.6C771.2 2345.3 773.1 2336.6 774.9 2331.2C776.2 2327.3 777.6 2320.6 778.9 2320.6C780.2 2320.6 781.5 2324.9 782.9 2328.5C784.4 2332.9 786.0 2342.1 787.6 2345.7C789.0 2348.8 790.4 2350.1 791.8 2350.1C793.5 2350.1 795.1 2345.4 796.7 2339.1C798.4 2332.4 800.1 2318.8 801.9 2310.1C803.2 2303.4 804.5 2295.2 805.8 2291.7C806.5 2289.8 807.2 2288.3 807.9 2288.3C808.7 2288.3 809.6 2292.9 810.5 2296.9C811.8 2303.1 813.1 2315.5 814.4 2323.3C815.9 2332.0 817.3 2340.6 818.8 2345.7C820.3 2350.9 821.9 2353.5 823.4 2353.6C825.3 2353.7 827.2 2353.6 829.2 2353.7C832.3 2353.9 835.5 2358.4 838.7 2359.9C841.4 2361.2 844.1 2362.6 846.9 2362.6C849.6 2362.6 852.4 2361.1 855.2 2359.1C857.9 2357.2 860.6 2352.9 863.3 2351.0C865.1 2349.7 867.0 2348.3 868.8 2348.3C871.0 2348.3 873.3 2353.3 875.5 2355.0C878.5 2357.3 881.5 2359.1 884.5 2359.1C887.0 2359.1 889.4 2357.9 891.9 2355.0C894.0 2352.6 896.1 2349.4 898.3 2344.2C900.1 2339.6 902.0 2330.9 903.9 2326.6C905.1 2323.9 906.3 2321.8 907.5 2320.4C907.9 2319.9 908.2 2319.3 908.6 2319.3C909.8 2319.3 910.9 2324.8 912.1 2327.9C913.9 2332.8 915.7 2340.3 917.5 2344.2C919.1 2347.7 920.8 2349.9 922.4 2351.0C923.7 2351.8 924.9 2351.8 926.2 2351.8C927.8 2351.8 929.4 2349.3 931.1 2345.6C932.7 2341.8 934.3 2333.2 935.9 2329.3C937.7 2325.2 939.4 2322.0 941.1 2322.0C942.2 2322.0 943.2 2327.3 944.3 2330.7C945.8 2335.2 947.3 2342.9 948.8 2346.9C950.8 2352.2 952.8 2353.1 954.8 2355.0C957.6 2357.7 960.3 2358.0 963.0 2359.1C966.6 2360.5 970.2 2361.8 973.9 2361.8C976.7 2361.8 979.6 2360.6 982.5 2359.9C984.8 2359.4 987.0 2358.3 989.3 2358.3C992.5 2358.3 995.6 2361.1 998.8 2361.8C1002.4 2362.6 1006.0 2362.6 1009.6 2362.6C1013.2 2362.6 1016.8 2361.9 1020.5 2360.5C1023.6 2359.2 1026.8 2358.0 1029.9 2355.0C1032.2 2352.9 1034.4 2349.3 1036.7 2346.9C1038.7 2344.8 1040.7 2341.5 1042.7 2341.5C1044.3 2341.5 1045.9 2345.4 1047.5 2346.9C1049.5 2348.7 1051.5 2351.0 1053.5 2351.0C1055.1 2351.0 1056.7 2348.1 1058.4 2346.9C1059.9 2345.8 1061.4 2344.2 1063.0 2344.2C1064.6 2344.2 1066.2 2348.0 1067.9 2349.6C1070.1 2351.8 1072.4 2354.1 1074.6 2355.0C1077.8 2356.4 1080.9 2356.4 1084.1 2356.4C1086.4 2356.4 1088.6 2353.9 1090.9 2352.9C1093.1 2351.8 1095.4 2350.2 1097.7 2350.2C1100.4 2350.2 1103.1 2352.3 1105.8 2353.7C1108.5 2355.0 1111.2 2357.0 1113.9 2358.3C1116.2 2359.4 1118.4 2361.0 1120.7 2361.0C1123.4 2361.0 1126.1 2359.1 1128.8 2357.2C1131.5 2355.3 1134.2 2351.3 1136.9 2349.6C1139.6 2347.9 1142.3 2346.9 1145.1 2346.9C1147.3 2346.9 1149.6 2349.1 1151.8 2351.0C1154.1 2352.9 1156.3 2357.4 1158.6 2358.3C1162.7 2359.9 1166.9 2359.4 1171.0 2359.9"/>
</g>
<g font-size="34.6" text-anchor="middle">
<text x="199.2" y="2539.3">10</text>
<text x="392.5" y="2539.3">20</text>
<text x="585.9" y="2539.3">30</text>
<text x="779.3" y="2539.3">40</text>
<text x="972.6" y="2539.3">50</text>
<text x="1166.0" y="2539.3">60</text>
</g>
<text x="611.3" y="2609.9" font-size="44.6">2<tspan x="636.5" y="2611.2" font-size="40" font-family="'Liberation Serif',serif" textLength="22" lengthAdjust="spacingAndGlyphs">θ</tspan></text>
<text transform="translate(59 1365) rotate(-90)" font-size="43.5" text-anchor="middle">intensity (a.u.)</text>
<text x="256.2" y="260" font-size="56" font-weight="bold">C</text>
<rect x="900.5" y="25.5" width="430" height="538" fill="#fff" stroke="#000" stroke-width="3"/>
<rect x="915" y="53.0" width="106" height="8" rx="2.5" fill="#0000ff"/>
<rect x="915" y="106.5" width="106" height="8" rx="2.5" fill="#008000"/>
<rect x="915" y="160.0" width="106" height="8" rx="2.5" fill="#ff0000"/>
<rect x="915" y="213.5" width="106" height="8" rx="2.5" fill="#00ff00"/>
<rect x="915" y="267.0" width="106" height="8" rx="2.5" fill="#00ffff"/>
<rect x="915" y="320.5" width="106" height="8" rx="2.5" fill="#ff00ff"/>
<rect x="915" y="374.0" width="106" height="8" rx="2.5" fill="#ff8000"/>
<rect x="915" y="427.5" width="106" height="8" rx="2.5" fill="#ff0080"/>
<rect x="915" y="481.0" width="106" height="8" rx="2.5" fill="#0000a0"/>
<rect x="915" y="534.5" width="106" height="8" rx="2.5" fill="#000000"/>
<g font-size="43.5">
<text x="1030" y="70.2">Shirley Temple</text>
<text x="1030" y="123.7">Go West</text>
<text x="1030" y="177.2">Spritz</text>
<text x="1030" y="230.7">Gin Tonic</text>
<text x="1030" y="284.2">Pina Colada</text>
<text x="1030" y="337.7">Mojto</text>
<text x="1030" y="391.2">Gin Fiz</text>
<text x="1030" y="444.7">Cuba Libre</text>
<text x="1030" y="498.2">Sunrise</text>
<text x="1030" y="551.7">Rossini</text>
</g>
</svg></body></html>
